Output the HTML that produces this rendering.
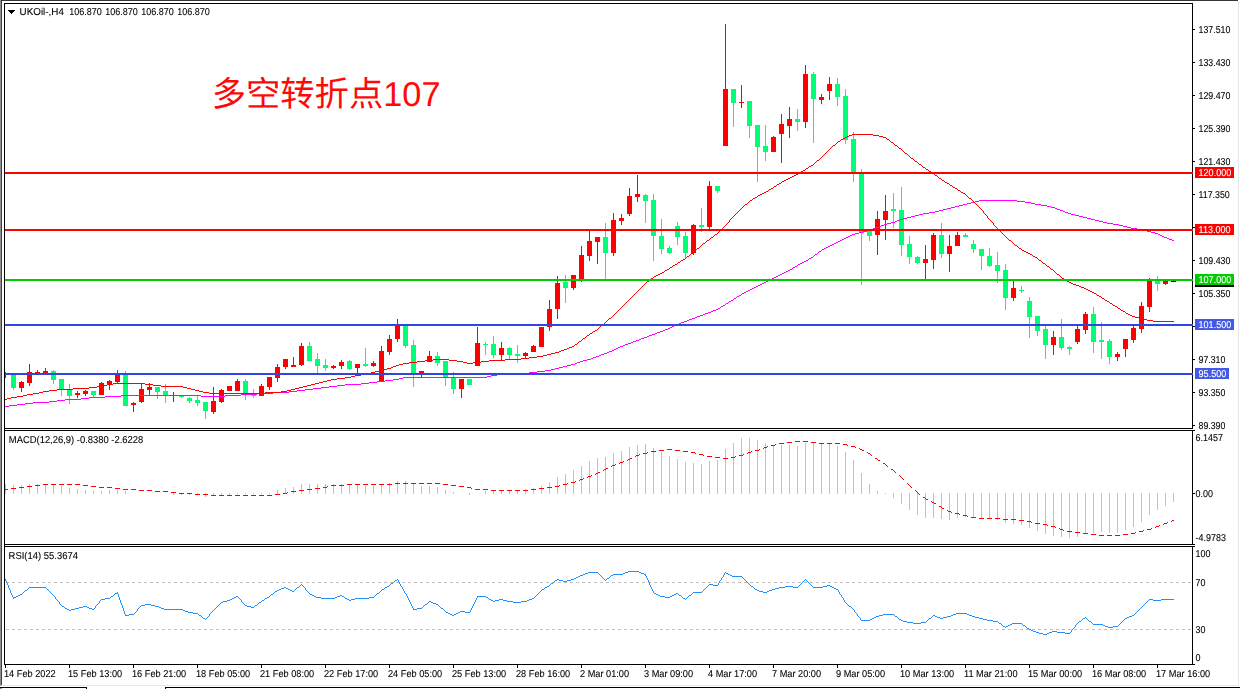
<!DOCTYPE html><html><head><meta charset="utf-8"><style>html,body{margin:0;padding:0;background:#fff}svg{display:block}</style></head><body><svg width="1240" height="689" viewBox="0 0 1240 689" font-family="Liberation Sans, sans-serif" font-size="10.0" style="text-rendering:geometricPrecision">
<rect width="1240" height="689" fill="#fff"/>
<g shape-rendering="crispEdges">
<rect x="0" y="0" width="1" height="686" fill="#8e8e8e"/>
<rect x="1" y="0" width="1" height="685" fill="#404040"/>
<rect x="1" y="0" width="1237" height="1" fill="#363636"/>
<rect x="1238" y="1" width="1" height="685" fill="#e6e6e6"/>
<rect x="2" y="685" width="1237" height="1" fill="#e6e6e6"/>
<rect x="0" y="688" width="2" height="1" fill="#8e8e8e"/>
<rect x="0" y="687" width="87" height="1" fill="#000"/>
<rect x="165" y="687" width="1075" height="1" fill="#000"/>
<rect x="86" y="687" width="1" height="2" fill="#000"/>
<rect x="165" y="687" width="1" height="2" fill="#000"/>
</g>
<g shape-rendering="crispEdges">
<rect x="5.0" y="372.0" width="1" height="6.0" fill="#ff0000"/>
<rect x="13.0" y="373.5" width="1" height="16.3" fill="#00fe76"/>
<rect x="11.0" y="374.3" width="5" height="13.5" fill="#00fe76"/>
<rect x="21.0" y="380.8" width="1" height="10.9" fill="#ff0000"/>
<rect x="19.0" y="382.0" width="5" height="5.8" fill="#ff0000"/>
<rect x="29.0" y="364.1" width="1" height="21.5" fill="#ff0000"/>
<rect x="27.0" y="372.1" width="5" height="10.6" fill="#ff0000"/>
<rect x="37.0" y="369.9" width="1" height="4.1" fill="#ff0000"/>
<rect x="35.0" y="372.0" width="5" height="2.0" fill="#ff0000"/>
<rect x="45.0" y="368.0" width="1" height="6.0" fill="#ff0000"/>
<rect x="43.0" y="371.1" width="5" height="2.2" fill="#ff0000"/>
<rect x="53.0" y="369.9" width="1" height="13.8" fill="#00fe76"/>
<rect x="51.0" y="371.1" width="5" height="8.7" fill="#00fe76"/>
<rect x="61.0" y="379.1" width="1" height="16.7" fill="#00fe76"/>
<rect x="59.0" y="379.1" width="5" height="10.4" fill="#00fe76"/>
<rect x="69.0" y="384.0" width="1" height="20.0" fill="#00fe76"/>
<rect x="67.0" y="388.8" width="5" height="7.3" fill="#00fe76"/>
<rect x="77.0" y="391.0" width="1" height="7.0" fill="#ff0000"/>
<rect x="75.0" y="392.9" width="5" height="2.1" fill="#ff0000"/>
<rect x="85.0" y="390.3" width="1" height="5.5" fill="#ff0000"/>
<rect x="83.0" y="391.4" width="5" height="2.5" fill="#ff0000"/>
<rect x="93.0" y="391.0" width="1" height="7.0" fill="#00fe76"/>
<rect x="91.0" y="391.0" width="5" height="3.6" fill="#00fe76"/>
<rect x="101.0" y="382.0" width="1" height="12.6" fill="#ff0000"/>
<rect x="99.0" y="383.0" width="5" height="11.6" fill="#ff0000"/>
<rect x="109.0" y="379.8" width="1" height="10.0" fill="#ff0000"/>
<rect x="107.0" y="380.8" width="5" height="4.1" fill="#ff0000"/>
<rect x="117.0" y="369.9" width="1" height="13.1" fill="#ff0000"/>
<rect x="115.0" y="374.7" width="5" height="7.3" fill="#ff0000"/>
<rect x="125.0" y="371.1" width="1" height="34.7" fill="#00fe76"/>
<rect x="123.0" y="374.7" width="5" height="31.1" fill="#00fe76"/>
<rect x="133.0" y="401.9" width="1" height="10.1" fill="#ff0000"/>
<rect x="131.0" y="403.0" width="5" height="1.8" fill="#ff0000"/>
<rect x="141.0" y="383.4" width="1" height="19.2" fill="#ff0000"/>
<rect x="139.0" y="388.8" width="5" height="13.1" fill="#ff0000"/>
<rect x="149.0" y="383.0" width="1" height="12.0" fill="#ff0000"/>
<rect x="147.0" y="387.0" width="5" height="2.8" fill="#ff0000"/>
<rect x="157.0" y="387.0" width="1" height="11.6" fill="#00fe76"/>
<rect x="155.0" y="387.1" width="5" height="4.6" fill="#00fe76"/>
<rect x="165.0" y="383.8" width="1" height="19.0" fill="#00fe76"/>
<rect x="163.0" y="391.1" width="5" height="3.8" fill="#00fe76"/>
<rect x="173.0" y="392.0" width="1" height="9.8" fill="#ff0000"/>
<rect x="171.0" y="394.5" width="5" height="1.0" fill="#ff0000"/>
<rect x="181.0" y="395.7" width="1" height="2.2" fill="#00fe76"/>
<rect x="179.0" y="396.0" width="5" height="1.3" fill="#00fe76"/>
<rect x="189.0" y="396.9" width="1" height="5.9" fill="#00fe76"/>
<rect x="187.0" y="397.9" width="5" height="2.9" fill="#00fe76"/>
<rect x="197.0" y="396.0" width="1" height="9.8" fill="#00fe76"/>
<rect x="195.0" y="400.1" width="5" height="2.7" fill="#00fe76"/>
<rect x="205.0" y="401.8" width="1" height="17.0" fill="#00fe76"/>
<rect x="203.0" y="401.8" width="5" height="9.2" fill="#00fe76"/>
<rect x="213.0" y="387.1" width="1" height="26.8" fill="#ff0000"/>
<rect x="211.0" y="401.2" width="5" height="10.7" fill="#ff0000"/>
<rect x="221.0" y="389.0" width="1" height="13.8" fill="#ff0000"/>
<rect x="219.0" y="390.1" width="5" height="11.7" fill="#ff0000"/>
<rect x="229.0" y="386.2" width="1" height="4.8" fill="#ff0000"/>
<rect x="227.0" y="386.2" width="5" height="4.8" fill="#ff0000"/>
<rect x="237.0" y="379.0" width="1" height="12.0" fill="#ff0000"/>
<rect x="235.0" y="380.9" width="5" height="10.1" fill="#ff0000"/>
<rect x="245.0" y="379.0" width="1" height="20.9" fill="#00fe76"/>
<rect x="243.0" y="380.9" width="5" height="12.7" fill="#00fe76"/>
<rect x="253.0" y="389.0" width="1" height="8.9" fill="#00fe76"/>
<rect x="251.0" y="394.0" width="5" height="1.7" fill="#00fe76"/>
<rect x="261.0" y="383.8" width="1" height="11.9" fill="#ff0000"/>
<rect x="259.0" y="386.2" width="5" height="9.5" fill="#ff0000"/>
<rect x="269.0" y="377.3" width="1" height="12.5" fill="#ff0000"/>
<rect x="267.0" y="377.3" width="5" height="9.5" fill="#ff0000"/>
<rect x="277.0" y="364.0" width="1" height="17.9" fill="#ff0000"/>
<rect x="275.0" y="367.2" width="5" height="10.7" fill="#ff0000"/>
<rect x="285.0" y="359.0" width="1" height="9.9" fill="#ff0000"/>
<rect x="283.0" y="359.0" width="5" height="7.8" fill="#ff0000"/>
<rect x="293.0" y="357.0" width="1" height="9.8" fill="#ff0000"/>
<rect x="291.0" y="365.0" width="5" height="1.8" fill="#ff0000"/>
<rect x="301.0" y="343.2" width="1" height="22.7" fill="#ff0000"/>
<rect x="299.0" y="346.0" width="5" height="18.8" fill="#ff0000"/>
<rect x="309.0" y="342.0" width="1" height="18.8" fill="#00fe76"/>
<rect x="307.0" y="346.0" width="5" height="14.8" fill="#00fe76"/>
<rect x="317.0" y="353.1" width="1" height="19.6" fill="#00fe76"/>
<rect x="315.0" y="359.0" width="5" height="6.9" fill="#00fe76"/>
<rect x="325.0" y="359.0" width="1" height="11.7" fill="#00fe76"/>
<rect x="323.0" y="365.1" width="5" height="2.6" fill="#00fe76"/>
<rect x="333.0" y="364.9" width="1" height="4.1" fill="#ff0000"/>
<rect x="331.0" y="365.9" width="5" height="1.8" fill="#ff0000"/>
<rect x="341.0" y="360.0" width="1" height="8.8" fill="#ff0000"/>
<rect x="339.0" y="362.2" width="5" height="3.7" fill="#ff0000"/>
<rect x="349.0" y="359.6" width="1" height="10.4" fill="#00fe76"/>
<rect x="347.0" y="360.9" width="5" height="7.9" fill="#00fe76"/>
<rect x="357.0" y="363.9" width="1" height="9.1" fill="#ff0000"/>
<rect x="355.0" y="363.9" width="5" height="3.8" fill="#ff0000"/>
<rect x="365.0" y="348.1" width="1" height="18.7" fill="#00fe76"/>
<rect x="363.0" y="363.9" width="5" height="2.3" fill="#00fe76"/>
<rect x="373.0" y="360.9" width="1" height="6.1" fill="#ff0000"/>
<rect x="371.0" y="362.9" width="5" height="3.3" fill="#ff0000"/>
<rect x="381.0" y="346.2" width="1" height="35.9" fill="#ff0000"/>
<rect x="379.0" y="351.1" width="5" height="31.0" fill="#ff0000"/>
<rect x="389.0" y="335.1" width="1" height="19.7" fill="#ff0000"/>
<rect x="387.0" y="339.0" width="5" height="12.8" fill="#ff0000"/>
<rect x="397.0" y="318.9" width="1" height="22.8" fill="#ff0000"/>
<rect x="395.0" y="325.7" width="5" height="13.0" fill="#ff0000"/>
<rect x="405.0" y="325.7" width="1" height="22.2" fill="#00fe76"/>
<rect x="403.0" y="325.7" width="5" height="20.2" fill="#00fe76"/>
<rect x="413.0" y="340.0" width="1" height="46.8" fill="#00fe76"/>
<rect x="411.0" y="345.0" width="5" height="28.1" fill="#00fe76"/>
<rect x="421.0" y="371.0" width="1" height="6.9" fill="#ff0000"/>
<rect x="419.0" y="371.0" width="5" height="2.3" fill="#ff0000"/>
<rect x="429.0" y="351.1" width="1" height="10.5" fill="#ff0000"/>
<rect x="427.0" y="356.0" width="5" height="5.6" fill="#ff0000"/>
<rect x="437.0" y="352.1" width="1" height="13.8" fill="#00fe76"/>
<rect x="435.0" y="356.0" width="5" height="6.9" fill="#00fe76"/>
<rect x="445.0" y="360.9" width="1" height="24.9" fill="#00fe76"/>
<rect x="443.0" y="360.9" width="5" height="16.0" fill="#00fe76"/>
<rect x="453.0" y="372.0" width="1" height="21.6" fill="#00fe76"/>
<rect x="451.0" y="377.2" width="5" height="11.6" fill="#00fe76"/>
<rect x="461.0" y="379.2" width="1" height="18.6" fill="#ff0000"/>
<rect x="459.0" y="379.2" width="5" height="9.6" fill="#ff0000"/>
<rect x="469.0" y="378.8" width="1" height="5.9" fill="#00fe76"/>
<rect x="467.0" y="378.8" width="5" height="5.9" fill="#00fe76"/>
<rect x="477.0" y="327.0" width="1" height="38.8" fill="#ff0000"/>
<rect x="475.0" y="343.0" width="5" height="22.8" fill="#ff0000"/>
<rect x="485.0" y="342.0" width="1" height="12.8" fill="#00fe76"/>
<rect x="483.0" y="344.2" width="5" height="1.0" fill="#00fe76"/>
<rect x="493.0" y="336.1" width="1" height="21.6" fill="#00fe76"/>
<rect x="491.0" y="344.2" width="5" height="10.5" fill="#00fe76"/>
<rect x="501.0" y="342.0" width="1" height="18.3" fill="#ff0000"/>
<rect x="499.0" y="348.1" width="5" height="6.6" fill="#ff0000"/>
<rect x="509.0" y="347.0" width="1" height="13.3" fill="#00fe76"/>
<rect x="507.0" y="348.1" width="5" height="6.6" fill="#00fe76"/>
<rect x="517.0" y="345.0" width="1" height="17.6" fill="#00fe76"/>
<rect x="515.0" y="354.4" width="5" height="1.3" fill="#00fe76"/>
<rect x="525.0" y="351.8" width="1" height="6.5" fill="#ff0000"/>
<rect x="523.0" y="352.8" width="5" height="2.9" fill="#ff0000"/>
<rect x="533.0" y="345.0" width="1" height="6.8" fill="#ff0000"/>
<rect x="531.0" y="346.2" width="5" height="5.6" fill="#ff0000"/>
<rect x="541.0" y="327.0" width="1" height="19.8" fill="#ff0000"/>
<rect x="539.0" y="327.0" width="5" height="19.8" fill="#ff0000"/>
<rect x="549.0" y="300.1" width="1" height="30.6" fill="#ff0000"/>
<rect x="547.0" y="309.2" width="5" height="18.2" fill="#ff0000"/>
<rect x="557.0" y="276.1" width="1" height="42.8" fill="#ff0000"/>
<rect x="555.0" y="282.8" width="5" height="26.1" fill="#ff0000"/>
<rect x="565.0" y="275.0" width="1" height="27.8" fill="#00fe76"/>
<rect x="563.0" y="281.7" width="5" height="5.9" fill="#00fe76"/>
<rect x="573.0" y="275.0" width="1" height="14.7" fill="#ff0000"/>
<rect x="571.0" y="275.0" width="5" height="12.6" fill="#ff0000"/>
<rect x="581.0" y="245.8" width="1" height="35.9" fill="#ff0000"/>
<rect x="579.0" y="255.0" width="5" height="24.3" fill="#ff0000"/>
<rect x="589.0" y="230.6" width="1" height="30.3" fill="#ff0000"/>
<rect x="587.0" y="241.0" width="5" height="14.7" fill="#ff0000"/>
<rect x="597.0" y="237.0" width="1" height="26.8" fill="#ff0000"/>
<rect x="595.0" y="237.1" width="5" height="4.4" fill="#ff0000"/>
<rect x="605.0" y="223.3" width="1" height="56.0" fill="#00fe76"/>
<rect x="603.0" y="237.1" width="5" height="15.6" fill="#00fe76"/>
<rect x="613.0" y="212.9" width="1" height="42.8" fill="#ff0000"/>
<rect x="611.0" y="220.1" width="5" height="32.6" fill="#ff0000"/>
<rect x="621.0" y="214.2" width="1" height="10.7" fill="#ff0000"/>
<rect x="619.0" y="218.2" width="5" height="2.7" fill="#ff0000"/>
<rect x="629.0" y="188.1" width="1" height="27.7" fill="#ff0000"/>
<rect x="627.0" y="196.1" width="5" height="17.6" fill="#ff0000"/>
<rect x="637.0" y="175.1" width="1" height="26.6" fill="#ff0000"/>
<rect x="635.0" y="194.1" width="5" height="2.8" fill="#ff0000"/>
<rect x="645.0" y="194.1" width="1" height="28.7" fill="#00fe76"/>
<rect x="643.0" y="195.0" width="5" height="5.9" fill="#00fe76"/>
<rect x="653.0" y="194.1" width="1" height="66.7" fill="#00fe76"/>
<rect x="651.0" y="200.1" width="5" height="35.5" fill="#00fe76"/>
<rect x="661.0" y="219.3" width="1" height="34.3" fill="#00fe76"/>
<rect x="659.0" y="236.0" width="5" height="12.5" fill="#00fe76"/>
<rect x="669.0" y="246.1" width="1" height="7.5" fill="#00fe76"/>
<rect x="667.0" y="248.0" width="5" height="4.8" fill="#00fe76"/>
<rect x="677.0" y="222.0" width="1" height="22.5" fill="#00fe76"/>
<rect x="675.0" y="226.0" width="5" height="10.8" fill="#00fe76"/>
<rect x="685.0" y="232.0" width="1" height="26.1" fill="#00fe76"/>
<rect x="683.0" y="236.0" width="5" height="16.8" fill="#00fe76"/>
<rect x="693.0" y="224.1" width="1" height="30.6" fill="#ff0000"/>
<rect x="691.0" y="225.2" width="5" height="27.9" fill="#ff0000"/>
<rect x="701.0" y="208.2" width="1" height="23.5" fill="#00fe76"/>
<rect x="699.0" y="225.0" width="5" height="1.9" fill="#00fe76"/>
<rect x="709.0" y="181.1" width="1" height="47.9" fill="#ff0000"/>
<rect x="707.0" y="186.2" width="5" height="40.4" fill="#ff0000"/>
<rect x="717.0" y="186.2" width="1" height="6.6" fill="#00fe76"/>
<rect x="715.0" y="186.2" width="5" height="4.5" fill="#00fe76"/>
<rect x="725.0" y="24.0" width="1" height="121.8" fill="#ff0000"/>
<rect x="723.0" y="89.1" width="5" height="56.7" fill="#ff0000"/>
<rect x="733.0" y="89.1" width="1" height="37.7" fill="#00fe76"/>
<rect x="731.0" y="89.1" width="5" height="13.6" fill="#00fe76"/>
<rect x="741.0" y="85.1" width="1" height="22.8" fill="#ff0000"/>
<rect x="739.0" y="102.0" width="5" height="1.1" fill="#ff0000"/>
<rect x="749.0" y="100.8" width="1" height="37.0" fill="#00fe76"/>
<rect x="747.0" y="100.8" width="5" height="25.0" fill="#00fe76"/>
<rect x="757.0" y="125.0" width="1" height="56.7" fill="#00fe76"/>
<rect x="755.0" y="125.0" width="5" height="21.7" fill="#00fe76"/>
<rect x="765.0" y="125.0" width="1" height="35.9" fill="#00fe76"/>
<rect x="763.0" y="145.8" width="5" height="6.0" fill="#00fe76"/>
<rect x="773.0" y="135.9" width="1" height="15.9" fill="#ff0000"/>
<rect x="771.0" y="137.0" width="5" height="14.8" fill="#ff0000"/>
<rect x="781.0" y="113.8" width="1" height="49.2" fill="#ff0000"/>
<rect x="779.0" y="123.9" width="5" height="10.1" fill="#ff0000"/>
<rect x="789.0" y="107.1" width="1" height="30.7" fill="#ff0000"/>
<rect x="787.0" y="118.8" width="5" height="7.2" fill="#ff0000"/>
<rect x="797.0" y="109.1" width="1" height="22.0" fill="#00fe76"/>
<rect x="795.0" y="118.8" width="5" height="3.0" fill="#00fe76"/>
<rect x="805.0" y="65.1" width="1" height="62.8" fill="#ff0000"/>
<rect x="803.0" y="74.2" width="5" height="47.6" fill="#ff0000"/>
<rect x="813.0" y="72.0" width="1" height="70.7" fill="#00fe76"/>
<rect x="811.0" y="74.2" width="5" height="24.5" fill="#00fe76"/>
<rect x="821.0" y="93.8" width="1" height="10.1" fill="#ff0000"/>
<rect x="819.0" y="97.0" width="5" height="2.7" fill="#ff0000"/>
<rect x="829.0" y="76.8" width="1" height="23.1" fill="#ff0000"/>
<rect x="827.0" y="84.3" width="5" height="6.5" fill="#ff0000"/>
<rect x="837.0" y="77.9" width="1" height="27.9" fill="#00fe76"/>
<rect x="835.0" y="84.3" width="5" height="12.4" fill="#00fe76"/>
<rect x="845.0" y="89.1" width="1" height="54.7" fill="#00fe76"/>
<rect x="843.0" y="96.2" width="5" height="43.3" fill="#00fe76"/>
<rect x="853.0" y="132.2" width="1" height="49.5" fill="#00fe76"/>
<rect x="851.0" y="139.0" width="5" height="33.3" fill="#00fe76"/>
<rect x="861.0" y="168.5" width="1" height="116.0" fill="#00fe76"/>
<rect x="859.0" y="172.8" width="5" height="59.8" fill="#00fe76"/>
<rect x="869.0" y="230.2" width="1" height="10.6" fill="#00fe76"/>
<rect x="867.0" y="230.2" width="5" height="5.6" fill="#00fe76"/>
<rect x="877.0" y="210.9" width="1" height="44.0" fill="#ff0000"/>
<rect x="875.0" y="219.1" width="5" height="15.8" fill="#ff0000"/>
<rect x="885.0" y="194.9" width="1" height="44.9" fill="#ff0000"/>
<rect x="883.0" y="210.9" width="5" height="9.1" fill="#ff0000"/>
<rect x="893.0" y="193.0" width="1" height="34.9" fill="#00fe76"/>
<rect x="891.0" y="209.1" width="5" height="1.8" fill="#00fe76"/>
<rect x="901.0" y="187.0" width="1" height="68.8" fill="#00fe76"/>
<rect x="899.0" y="210.0" width="5" height="34.9" fill="#00fe76"/>
<rect x="909.0" y="236.0" width="1" height="27.8" fill="#00fe76"/>
<rect x="907.0" y="244.0" width="5" height="12.8" fill="#00fe76"/>
<rect x="917.0" y="255.8" width="1" height="8.0" fill="#00fe76"/>
<rect x="915.0" y="256.8" width="5" height="6.0" fill="#00fe76"/>
<rect x="925.0" y="244.9" width="1" height="34.3" fill="#ff0000"/>
<rect x="923.0" y="259.1" width="5" height="3.7" fill="#ff0000"/>
<rect x="933.0" y="233.2" width="1" height="35.7" fill="#ff0000"/>
<rect x="931.0" y="234.9" width="5" height="24.7" fill="#ff0000"/>
<rect x="941.0" y="223.2" width="1" height="34.5" fill="#00fe76"/>
<rect x="939.0" y="234.9" width="5" height="18.8" fill="#00fe76"/>
<rect x="949.0" y="234.8" width="1" height="36.7" fill="#ff0000"/>
<rect x="947.0" y="245.9" width="5" height="7.7" fill="#ff0000"/>
<rect x="957.0" y="231.8" width="1" height="14.6" fill="#ff0000"/>
<rect x="955.0" y="234.8" width="5" height="11.6" fill="#ff0000"/>
<rect x="965.0" y="232.6" width="1" height="4.1" fill="#00fe76"/>
<rect x="963.0" y="234.8" width="5" height="1.9" fill="#00fe76"/>
<rect x="973.0" y="239.9" width="1" height="12.6" fill="#00fe76"/>
<rect x="971.0" y="244.4" width="5" height="4.5" fill="#00fe76"/>
<rect x="981.0" y="248.5" width="1" height="21.3" fill="#00fe76"/>
<rect x="979.0" y="248.5" width="5" height="7.1" fill="#00fe76"/>
<rect x="989.0" y="248.0" width="1" height="18.7" fill="#00fe76"/>
<rect x="987.0" y="256.2" width="5" height="9.5" fill="#00fe76"/>
<rect x="997.0" y="251.9" width="1" height="30.7" fill="#00fe76"/>
<rect x="995.0" y="265.1" width="5" height="5.7" fill="#00fe76"/>
<rect x="1005.0" y="264.1" width="1" height="45.7" fill="#00fe76"/>
<rect x="1003.0" y="270.2" width="5" height="27.4" fill="#00fe76"/>
<rect x="1013.0" y="281.0" width="1" height="19.7" fill="#ff0000"/>
<rect x="1011.0" y="288.1" width="5" height="9.5" fill="#ff0000"/>
<rect x="1021.0" y="286.0" width="1" height="7.2" fill="#00fe76"/>
<rect x="1019.0" y="289.5" width="5" height="1.0" fill="#00fe76"/>
<rect x="1029.0" y="296.8" width="1" height="41.1" fill="#00fe76"/>
<rect x="1027.0" y="301.3" width="5" height="15.2" fill="#00fe76"/>
<rect x="1037.0" y="316.1" width="1" height="19.8" fill="#00fe76"/>
<rect x="1035.0" y="316.1" width="5" height="14.7" fill="#00fe76"/>
<rect x="1045.0" y="325.7" width="1" height="33.1" fill="#00fe76"/>
<rect x="1043.0" y="329.0" width="5" height="15.7" fill="#00fe76"/>
<rect x="1053.0" y="331.0" width="1" height="23.9" fill="#ff0000"/>
<rect x="1051.0" y="337.2" width="5" height="7.5" fill="#ff0000"/>
<rect x="1061.0" y="319.3" width="1" height="30.3" fill="#00fe76"/>
<rect x="1059.0" y="337.2" width="5" height="10.8" fill="#00fe76"/>
<rect x="1069.0" y="346.0" width="1" height="8.9" fill="#00fe76"/>
<rect x="1067.0" y="346.9" width="5" height="1.9" fill="#00fe76"/>
<rect x="1077.0" y="325.3" width="1" height="18.4" fill="#ff0000"/>
<rect x="1075.0" y="329.2" width="5" height="12.9" fill="#ff0000"/>
<rect x="1085.0" y="312.1" width="1" height="21.5" fill="#ff0000"/>
<rect x="1083.0" y="314.2" width="5" height="15.8" fill="#ff0000"/>
<rect x="1093.0" y="307.3" width="1" height="45.5" fill="#00fe76"/>
<rect x="1091.0" y="314.2" width="5" height="27.7" fill="#00fe76"/>
<rect x="1101.0" y="321.7" width="1" height="37.2" fill="#00fe76"/>
<rect x="1099.0" y="340.0" width="5" height="1.9" fill="#00fe76"/>
<rect x="1109.0" y="338.8" width="1" height="24.9" fill="#00fe76"/>
<rect x="1107.0" y="340.8" width="5" height="16.0" fill="#00fe76"/>
<rect x="1117.0" y="352.0" width="1" height="8.8" fill="#ff0000"/>
<rect x="1115.0" y="354.1" width="5" height="3.0" fill="#ff0000"/>
<rect x="1125.0" y="338.9" width="1" height="17.9" fill="#ff0000"/>
<rect x="1123.0" y="338.9" width="5" height="9.9" fill="#ff0000"/>
<rect x="1133.0" y="325.7" width="1" height="17.0" fill="#ff0000"/>
<rect x="1131.0" y="328.1" width="5" height="11.6" fill="#ff0000"/>
<rect x="1141.0" y="302.0" width="1" height="30.5" fill="#ff0000"/>
<rect x="1139.0" y="306.2" width="5" height="22.7" fill="#ff0000"/>
<rect x="1149.0" y="278.1" width="1" height="33.7" fill="#ff0000"/>
<rect x="1147.0" y="280.2" width="5" height="26.6" fill="#ff0000"/>
<rect x="1157.0" y="275.9" width="1" height="15.0" fill="#00fe76"/>
<rect x="1155.0" y="280.2" width="5" height="3.6" fill="#00fe76"/>
<rect x="1165.0" y="280.0" width="1" height="5.0" fill="#ff0000"/>
<rect x="1163.0" y="281.0" width="5" height="2.8" fill="#ff0000"/>
<rect x="1171" y="280.5" width="5" height="1" fill="#000"/>
</g>
<path d="M979 200h38v1h-38zM975 201h4v1h-4zM1017 201h8v1h-8zM971 202h4v1h-4zM1025 202h6v1h-6zM967 203h4v1h-4zM1031 203h4v1h-4zM963 204h4v1h-4zM1035 204h6v1h-6zM959 205h4v1h-4zM1041 205h6v1h-6zM955 206h4v1h-4zM1047 206h4v1h-4zM951 207h4v1h-4zM1051 207h4v1h-4zM947 208h4v1h-4zM1055 208h2v1h-2zM943 209h4v1h-4zM1057 209h3v1h-3zM939 210h4v1h-4zM1060 210h3v1h-3zM935 211h4v1h-4zM1063 211h2v1h-2zM929 212h6v1h-6zM1065 212h3v1h-3zM923 213h6v1h-6zM1068 213h3v1h-3zM919 214h4v1h-4zM1071 214h4v1h-4zM915 215h4v1h-4zM1075 215h4v1h-4zM911 216h4v1h-4zM1079 216h4v1h-4zM907 217h4v1h-4zM1083 217h4v1h-4zM903 218h4v1h-4zM1087 218h4v1h-4zM900 219h3v1h-3zM1091 219h4v1h-4zM897 220h3v1h-3zM1095 220h4v1h-4zM895 221h2v1h-2zM1099 221h4v1h-4zM891 222h4v1h-4zM1103 222h4v1h-4zM887 223h4v1h-4zM1107 223h6v1h-6zM884 224h3v1h-3zM1113 224h6v1h-6zM881 225h3v1h-3zM1119 225h4v1h-4zM879 226h2v1h-2zM1123 226h4v1h-4zM876 227h3v1h-3zM1127 227h4v1h-4zM873 228h3v1h-3zM1131 228h6v1h-6zM871 229h2v1h-2zM1137 229h6v1h-6zM867 230h4v1h-4zM1143 230h4v1h-4zM863 231h4v1h-4zM1147 231h4v1h-4zM859 232h4v1h-4zM1151 232h4v1h-4zM855 233h4v1h-4zM1155 233h3v1h-3zM852 234h3v1h-3zM1158 234h2v1h-2zM850 235h2v1h-2zM1160 235h2v1h-2zM848 236h2v1h-2zM1162 236h2v1h-2zM846 237h2v1h-2zM1164 237h3v1h-3zM844 238h2v1h-2zM1167 238h2v1h-2zM842 239h2v1h-2zM1169 239h3v1h-3zM840 240h2v1h-2zM1172 240h2v1h-2zM838 241h2v1h-2zM836 242h2v1h-2zM834 243h2v1h-2zM832 244h2v1h-2zM830 245h2v1h-2zM828 246h2v1h-2zM826 247h2v1h-2zM824 248h2v1h-2zM822 249h2v1h-2zM821 250h1v1h-1zM819 251h2v1h-2zM818 252h1v1h-1zM817 253h1v1h-1zM815 254h2v1h-2zM814 255h1v1h-1zM813 256h1v1h-1zM811 257h2v1h-2zM809 258h2v1h-2zM808 259h1v1h-1zM806 260h2v1h-2zM804 261h2v1h-2zM802 262h2v1h-2zM800 263h2v1h-2zM798 264h2v1h-2zM797 265h1v1h-1zM795 266h2v1h-2zM793 267h2v1h-2zM792 268h1v1h-1zM790 269h2v1h-2zM788 270h2v1h-2zM786 271h2v1h-2zM784 272h2v1h-2zM782 273h2v1h-2zM780 274h2v1h-2zM778 275h2v1h-2zM776 276h2v1h-2zM774 277h2v1h-2zM772 278h2v1h-2zM770 279h2v1h-2zM768 280h2v1h-2zM766 281h2v1h-2zM764 282h2v1h-2zM762 283h2v1h-2zM760 284h2v1h-2zM758 285h2v1h-2zM756 286h2v1h-2zM754 287h2v1h-2zM752 288h2v1h-2zM750 289h2v1h-2zM748 290h2v1h-2zM746 291h2v1h-2zM744 292h2v1h-2zM742 293h2v1h-2zM741 294h1v1h-1zM739 295h2v1h-2zM737 296h2v1h-2zM736 297h1v1h-1zM734 298h2v1h-2zM733 299h1v1h-1zM731 300h2v1h-2zM729 301h2v1h-2zM728 302h1v1h-1zM726 303h2v1h-2zM725 304h1v1h-1zM723 305h2v1h-2zM721 306h2v1h-2zM720 307h1v1h-1zM718 308h2v1h-2zM716 309h2v1h-2zM713 310h3v1h-3zM711 311h2v1h-2zM708 312h3v1h-3zM705 313h3v1h-3zM703 314h2v1h-2zM700 315h3v1h-3zM697 316h3v1h-3zM695 317h2v1h-2zM692 318h3v1h-3zM689 319h3v1h-3zM687 320h2v1h-2zM684 321h3v1h-3zM681 322h3v1h-3zM679 323h2v1h-2zM676 324h3v1h-3zM674 325h2v1h-2zM672 326h2v1h-2zM670 327h2v1h-2zM668 328h2v1h-2zM665 329h3v1h-3zM663 330h2v1h-2zM660 331h3v1h-3zM657 332h3v1h-3zM655 333h2v1h-2zM652 334h3v1h-3zM649 335h3v1h-3zM647 336h2v1h-2zM644 337h3v1h-3zM641 338h3v1h-3zM639 339h2v1h-2zM636 340h3v1h-3zM633 341h3v1h-3zM631 342h2v1h-2zM628 343h3v1h-3zM625 344h3v1h-3zM623 345h2v1h-2zM620 346h3v1h-3zM618 347h2v1h-2zM616 348h2v1h-2zM614 349h2v1h-2zM612 350h2v1h-2zM609 351h3v1h-3zM607 352h2v1h-2zM604 353h3v1h-3zM601 354h3v1h-3zM599 355h2v1h-2zM596 356h3v1h-3zM593 357h3v1h-3zM591 358h2v1h-2zM587 359h4v1h-4zM583 360h4v1h-4zM580 361h3v1h-3zM577 362h3v1h-3zM575 363h2v1h-2zM571 364h4v1h-4zM567 365h4v1h-4zM563 366h4v1h-4zM559 367h4v1h-4zM555 368h4v1h-4zM551 369h4v1h-4zM545 370h6v1h-6zM537 371h8v1h-8zM529 372h8v1h-8zM513 373h16v1h-16zM497 374h16v1h-16zM491 375h6v1h-6zM487 376h4v1h-4zM403 377h84v1h-84zM399 378h4v1h-4zM393 379h6v1h-6zM385 380h8v1h-8zM377 381h8v1h-8zM369 382h8v1h-8zM361 383h8v1h-8zM345 384h16v1h-16zM337 385h8v1h-8zM329 386h8v1h-8zM321 387h8v1h-8zM313 388h8v1h-8zM305 389h8v1h-8zM297 390h8v1h-8zM289 391h8v1h-8zM273 392h16v1h-16zM257 393h16v1h-16zM241 394h16v1h-16zM121 395h80v1h-80zM225 395h16v1h-16zM105 396h16v1h-16zM201 396h24v1h-24zM89 397h16v1h-16zM81 398h8v1h-8zM65 399h16v1h-16zM57 400h8v1h-8zM49 401h8v1h-8zM33 402h16v1h-16zM25 403h8v1h-8zM17 404h8v1h-8zM9 405h8v1h-8zM5 406h4v1h-4z" fill="#ff00ff" shape-rendering="crispEdges"/>
<path d="M852 134h21v1h-21zM849 135h3v1h-3zM873 135h6v1h-6zM847 136h2v1h-2zM879 136h4v1h-4zM845 137h2v1h-2zM883 137h3v1h-3zM843 138h2v1h-2zM886 138h1v1h-1zM841 139h2v1h-2zM887 139h2v1h-2zM840 140h1v1h-1zM889 140h1v1h-1zM838 141h2v1h-2zM890 141h1v1h-1zM837 142h1v1h-1zM891 142h2v1h-2zM836 143h1v1h-1zM893 143h1v1h-1zM835 144h1v1h-1zM894 144h1v1h-1zM833 145h2v1h-2zM895 145h2v1h-2zM832 146h1v1h-1zM897 146h1v1h-1zM831 147h1v1h-1zM898 147h1v1h-1zM830 148h1v1h-1zM899 148h2v1h-2zM829 149h1v1h-1zM901 149h1v1h-1zM828 150h1v1h-1zM902 150h1v1h-1zM827 151h1v1h-1zM903 151h1v1h-1zM826 152h1v1h-1zM904 152h1v1h-1zM825 153h1v1h-1zM905 153h2v1h-2zM824 154h1v1h-1zM907 154h1v1h-1zM823 155h1v1h-1zM908 155h1v1h-1zM822 156h1v1h-1zM909 156h1v1h-1zM821 157h1v1h-1zM910 157h1v1h-1zM820 158h1v1h-1zM911 158h2v1h-2zM819 159h1v1h-1zM913 159h1v1h-1zM817 160h2v1h-2zM914 160h1v1h-1zM816 161h1v1h-1zM915 161h2v1h-2zM815 162h1v1h-1zM917 162h1v1h-1zM814 163h1v1h-1zM918 163h1v1h-1zM813 164h1v1h-1zM919 164h2v1h-2zM811 165h2v1h-2zM921 165h1v1h-1zM809 166h2v1h-2zM922 166h1v1h-1zM808 167h1v1h-1zM923 167h2v1h-2zM806 168h2v1h-2zM925 168h1v1h-1zM805 169h1v1h-1zM926 169h2v1h-2zM803 170h2v1h-2zM928 170h1v1h-1zM801 171h2v1h-2zM929 171h2v1h-2zM800 172h1v1h-1zM931 172h2v1h-2zM798 173h2v1h-2zM933 173h1v1h-1zM796 174h2v1h-2zM934 174h1v1h-1zM794 175h2v1h-2zM935 175h2v1h-2zM792 176h2v1h-2zM937 176h1v1h-1zM790 177h2v1h-2zM938 177h1v1h-1zM788 178h2v1h-2zM939 178h2v1h-2zM786 179h2v1h-2zM941 179h1v1h-1zM784 180h2v1h-2zM942 180h2v1h-2zM782 181h2v1h-2zM944 181h1v1h-1zM781 182h1v1h-1zM945 182h2v1h-2zM779 183h2v1h-2zM947 183h2v1h-2zM777 184h2v1h-2zM949 184h1v1h-1zM776 185h1v1h-1zM950 185h2v1h-2zM774 186h2v1h-2zM952 186h1v1h-1zM773 187h1v1h-1zM953 187h2v1h-2zM771 188h2v1h-2zM955 188h2v1h-2zM769 189h2v1h-2zM957 189h1v1h-1zM768 190h1v1h-1zM958 190h2v1h-2zM766 191h2v1h-2zM960 191h1v1h-1zM764 192h2v1h-2zM961 192h2v1h-2zM762 193h2v1h-2zM963 193h2v1h-2zM760 194h2v1h-2zM965 194h1v1h-1zM758 195h2v1h-2zM966 195h1v1h-1zM757 196h1v1h-1zM967 196h1v1h-1zM755 197h2v1h-2zM968 197h1v1h-1zM753 198h2v1h-2zM969 198h2v1h-2zM752 199h1v1h-1zM971 199h1v1h-1zM750 200h2v1h-2zM972 200h1v1h-1zM749 201h1v1h-1zM973 201h1v1h-1zM748 202h1v1h-1zM974 202h1v1h-1zM747 203h1v1h-1zM975 203h1v1h-1zM745 204h2v1h-2zM976 204h1v1h-1zM744 205h1v1h-1zM977 205h1v1h-1zM743 206h1v1h-1zM978 206h1v1h-1zM742 207h1v1h-1zM979 207h1v1h-1zM741 208h1v1h-1zM980 208h1v1h-1zM740 209h1v1h-1zM981 209h1v1h-1zM739 210h1v1h-1zM982 210h1v1h-1zM738 211h1v1h-1zM983 211h1v1h-1zM737 212h1v1h-1zM983 212h1v1h-1zM736 213h1v1h-1zM984 213h1v1h-1zM735 214h1v1h-1zM985 214h1v1h-1zM734 215h1v1h-1zM986 215h1v1h-1zM733 216h1v1h-1zM987 216h1v1h-1zM732 217h1v1h-1zM987 217h1v1h-1zM731 218h1v1h-1zM988 218h1v1h-1zM730 219h1v1h-1zM989 219h1v1h-1zM729 220h1v1h-1zM990 220h1v1h-1zM729 221h1v1h-1zM991 221h1v1h-1zM728 222h1v1h-1zM992 222h1v1h-1zM727 223h1v1h-1zM993 223h1v1h-1zM726 224h1v1h-1zM993 224h1v1h-1zM725 225h1v1h-1zM994 225h1v1h-1zM724 226h1v1h-1zM995 226h1v1h-1zM723 227h1v1h-1zM996 227h1v1h-1zM722 228h1v1h-1zM997 228h1v1h-1zM721 229h1v1h-1zM998 229h1v1h-1zM720 230h1v1h-1zM999 230h1v1h-1zM719 231h1v1h-1zM1000 231h1v1h-1zM718 232h1v1h-1zM1001 232h1v1h-1zM717 233h1v1h-1zM1002 233h1v1h-1zM715 234h2v1h-2zM1003 234h1v1h-1zM714 235h1v1h-1zM1004 235h1v1h-1zM713 236h1v1h-1zM1005 236h1v1h-1zM711 237h2v1h-2zM1006 237h1v1h-1zM710 238h1v1h-1zM1007 238h1v1h-1zM709 239h1v1h-1zM1008 239h1v1h-1zM707 240h2v1h-2zM1009 240h2v1h-2zM706 241h1v1h-1zM1011 241h1v1h-1zM705 242h1v1h-1zM1012 242h1v1h-1zM703 243h2v1h-2zM1013 243h1v1h-1zM702 244h1v1h-1zM1014 244h1v1h-1zM701 245h1v1h-1zM1015 245h2v1h-2zM700 246h1v1h-1zM1017 246h1v1h-1zM699 247h1v1h-1zM1018 247h1v1h-1zM697 248h2v1h-2zM1019 248h2v1h-2zM696 249h1v1h-1zM1021 249h1v1h-1zM695 250h1v1h-1zM1022 250h2v1h-2zM694 251h1v1h-1zM1024 251h2v1h-2zM693 252h1v1h-1zM1026 252h2v1h-2zM691 253h2v1h-2zM1028 253h2v1h-2zM690 254h1v1h-1zM1030 254h2v1h-2zM689 255h1v1h-1zM1032 255h1v1h-1zM687 256h2v1h-2zM1033 256h2v1h-2zM686 257h1v1h-1zM1035 257h2v1h-2zM685 258h1v1h-1zM1037 258h1v1h-1zM683 259h2v1h-2zM1038 259h1v1h-1zM681 260h2v1h-2zM1039 260h2v1h-2zM680 261h1v1h-1zM1041 261h1v1h-1zM678 262h2v1h-2zM1042 262h1v1h-1zM677 263h1v1h-1zM1043 263h2v1h-2zM675 264h2v1h-2zM1045 264h1v1h-1zM673 265h2v1h-2zM1046 265h1v1h-1zM672 266h1v1h-1zM1047 266h2v1h-2zM670 267h2v1h-2zM1049 267h1v1h-1zM669 268h1v1h-1zM1050 268h1v1h-1zM667 269h2v1h-2zM1051 269h2v1h-2zM665 270h2v1h-2zM1053 270h1v1h-1zM664 271h1v1h-1zM1054 271h1v1h-1zM662 272h2v1h-2zM1055 272h1v1h-1zM660 273h2v1h-2zM1056 273h1v1h-1zM658 274h2v1h-2zM1057 274h2v1h-2zM656 275h2v1h-2zM1059 275h1v1h-1zM654 276h2v1h-2zM1060 276h1v1h-1zM653 277h1v1h-1zM1061 277h1v1h-1zM651 278h2v1h-2zM1062 278h2v1h-2zM650 279h1v1h-1zM1064 279h1v1h-1zM649 280h1v1h-1zM1065 280h2v1h-2zM647 281h2v1h-2zM1067 281h2v1h-2zM646 282h1v1h-1zM1069 282h2v1h-2zM645 283h1v1h-1zM1071 283h2v1h-2zM644 284h1v1h-1zM1073 284h3v1h-3zM643 285h1v1h-1zM1076 285h3v1h-3zM642 286h1v1h-1zM1079 286h2v1h-2zM641 287h1v1h-1zM1081 287h3v1h-3zM640 288h1v1h-1zM1084 288h2v1h-2zM639 289h1v1h-1zM1086 289h2v1h-2zM638 290h1v1h-1zM1088 290h2v1h-2zM637 291h1v1h-1zM1090 291h2v1h-2zM636 292h1v1h-1zM1092 292h2v1h-2zM635 293h1v1h-1zM1094 293h2v1h-2zM634 294h1v1h-1zM1096 294h1v1h-1zM633 295h1v1h-1zM1097 295h2v1h-2zM632 296h1v1h-1zM1099 296h2v1h-2zM631 297h1v1h-1zM1101 297h1v1h-1zM630 298h1v1h-1zM1102 298h2v1h-2zM629 299h1v1h-1zM1104 299h1v1h-1zM628 300h1v1h-1zM1105 300h2v1h-2zM627 301h1v1h-1zM1107 301h2v1h-2zM626 302h1v1h-1zM1109 302h1v1h-1zM625 303h1v1h-1zM1110 303h2v1h-2zM624 304h1v1h-1zM1112 304h1v1h-1zM623 305h1v1h-1zM1113 305h2v1h-2zM622 306h1v1h-1zM1115 306h2v1h-2zM621 307h1v1h-1zM1117 307h1v1h-1zM620 308h1v1h-1zM1118 308h2v1h-2zM619 309h1v1h-1zM1120 309h1v1h-1zM618 310h1v1h-1zM1121 310h2v1h-2zM617 311h1v1h-1zM1123 311h2v1h-2zM616 312h1v1h-1zM1125 312h1v1h-1zM615 313h1v1h-1zM1126 313h2v1h-2zM614 314h1v1h-1zM1128 314h2v1h-2zM613 315h1v1h-1zM1130 315h2v1h-2zM612 316h1v1h-1zM1132 316h3v1h-3zM611 317h1v1h-1zM1135 317h4v1h-4zM609 318h2v1h-2zM1139 318h4v1h-4zM608 319h1v1h-1zM1143 319h4v1h-4zM607 320h1v1h-1zM1147 320h6v1h-6zM606 321h1v1h-1zM1153 321h21v1h-21zM605 322h1v1h-1zM604 323h1v1h-1zM603 324h1v1h-1zM601 325h2v1h-2zM600 326h1v1h-1zM599 327h1v1h-1zM598 328h1v1h-1zM597 329h1v1h-1zM595 330h2v1h-2zM593 331h2v1h-2zM592 332h1v1h-1zM590 333h2v1h-2zM589 334h1v1h-1zM587 335h2v1h-2zM586 336h1v1h-1zM585 337h1v1h-1zM583 338h2v1h-2zM582 339h1v1h-1zM581 340h1v1h-1zM579 341h2v1h-2zM578 342h1v1h-1zM577 343h1v1h-1zM575 344h2v1h-2zM574 345h1v1h-1zM572 346h2v1h-2zM569 347h3v1h-3zM567 348h2v1h-2zM564 349h3v1h-3zM561 350h3v1h-3zM559 351h2v1h-2zM555 352h4v1h-4zM551 353h4v1h-4zM547 354h4v1h-4zM543 355h4v1h-4zM537 356h6v1h-6zM529 357h8v1h-8zM521 358h8v1h-8zM433 359h16v1h-16zM505 359h16v1h-16zM425 360h8v1h-8zM449 360h8v1h-8zM489 360h16v1h-16zM417 361h8v1h-8zM457 361h6v1h-6zM481 361h8v1h-8zM409 362h8v1h-8zM463 362h4v1h-4zM473 362h8v1h-8zM403 363h6v1h-6zM467 363h6v1h-6zM399 364h4v1h-4zM396 365h3v1h-3zM393 366h3v1h-3zM391 367h2v1h-2zM387 368h4v1h-4zM383 369h4v1h-4zM379 370h4v1h-4zM375 371h4v1h-4zM371 372h4v1h-4zM367 373h4v1h-4zM361 374h6v1h-6zM355 375h6v1h-6zM351 376h4v1h-4zM345 377h6v1h-6zM337 378h8v1h-8zM331 379h6v1h-6zM327 380h4v1h-4zM323 381h4v1h-4zM319 382h4v1h-4zM113 383h32v1h-32zM315 383h4v1h-4zM107 384h6v1h-6zM145 384h8v1h-8zM311 384h4v1h-4zM103 385h4v1h-4zM153 385h8v1h-8zM307 385h4v1h-4zM97 386h6v1h-6zM161 386h22v1h-22zM303 386h4v1h-4zM89 387h8v1h-8zM183 387h4v1h-4zM299 387h4v1h-4zM73 388h16v1h-16zM187 388h4v1h-4zM295 388h4v1h-4zM57 389h16v1h-16zM191 389h4v1h-4zM291 389h4v1h-4zM49 390h8v1h-8zM195 390h4v1h-4zM287 390h4v1h-4zM43 391h6v1h-6zM199 391h4v1h-4zM281 391h6v1h-6zM39 392h4v1h-4zM203 392h6v1h-6zM265 392h16v1h-16zM33 393h6v1h-6zM209 393h56v1h-56zM27 394h6v1h-6zM23 395h4v1h-4zM17 396h6v1h-6zM11 397h6v1h-6zM7 398h4v1h-4zM5 399h2v1h-2z" fill="#ff0000" shape-rendering="crispEdges"/>
<g shape-rendering="crispEdges">
<rect x="5.0" y="484.3" width="1" height="9.7" fill="#c0c0c0"/>
<rect x="13.0" y="485.1" width="1" height="8.9" fill="#c0c0c0"/>
<rect x="21.0" y="485.1" width="1" height="8.9" fill="#c0c0c0"/>
<rect x="29.0" y="484.3" width="1" height="9.7" fill="#c0c0c0"/>
<rect x="37.0" y="484.3" width="1" height="9.7" fill="#c0c0c0"/>
<rect x="45.0" y="484.3" width="1" height="9.7" fill="#c0c0c0"/>
<rect x="53.0" y="484.8" width="1" height="9.2" fill="#c0c0c0"/>
<rect x="61.0" y="485.9" width="1" height="8.1" fill="#c0c0c0"/>
<rect x="69.0" y="487.6" width="1" height="6.4" fill="#c0c0c0"/>
<rect x="77.0" y="488.8" width="1" height="5.2" fill="#c0c0c0"/>
<rect x="85.0" y="489.8" width="1" height="4.2" fill="#c0c0c0"/>
<rect x="93.0" y="490.9" width="1" height="3.1" fill="#c0c0c0"/>
<rect x="101.0" y="490.9" width="1" height="3.1" fill="#c0c0c0"/>
<rect x="109.0" y="490.4" width="1" height="3.6" fill="#c0c0c0"/>
<rect x="117.0" y="489.8" width="1" height="4.2" fill="#c0c0c0"/>
<rect x="125.0" y="491.4" width="1" height="2.6" fill="#c0c0c0"/>
<rect x="173.0" y="493.0" width="1" height="1.5" fill="#c0c0c0"/>
<rect x="181.0" y="493.0" width="1" height="1.5" fill="#c0c0c0"/>
<rect x="189.0" y="493.0" width="1" height="1.5" fill="#c0c0c0"/>
<rect x="197.0" y="493.0" width="1" height="1.8" fill="#c0c0c0"/>
<rect x="205.0" y="493.0" width="1" height="3.8" fill="#c0c0c0"/>
<rect x="213.0" y="493.0" width="1" height="3.4" fill="#c0c0c0"/>
<rect x="221.0" y="493.0" width="1" height="2.5" fill="#c0c0c0"/>
<rect x="229.0" y="493.0" width="1" height="2.0" fill="#c0c0c0"/>
<rect x="237.0" y="492.8" width="1" height="1.2" fill="#c0c0c0"/>
<rect x="245.0" y="492.5" width="1" height="1.5" fill="#c0c0c0"/>
<rect x="253.0" y="492.5" width="1" height="1.5" fill="#c0c0c0"/>
<rect x="261.0" y="492.8" width="1" height="1.2" fill="#c0c0c0"/>
<rect x="269.0" y="492.8" width="1" height="1.2" fill="#c0c0c0"/>
<rect x="277.0" y="490.1" width="1" height="3.9" fill="#c0c0c0"/>
<rect x="285.0" y="488.1" width="1" height="5.9" fill="#c0c0c0"/>
<rect x="293.0" y="486.8" width="1" height="7.2" fill="#c0c0c0"/>
<rect x="301.0" y="483.9" width="1" height="10.1" fill="#c0c0c0"/>
<rect x="309.0" y="483.9" width="1" height="10.1" fill="#c0c0c0"/>
<rect x="317.0" y="483.9" width="1" height="10.1" fill="#c0c0c0"/>
<rect x="325.0" y="483.9" width="1" height="10.1" fill="#c0c0c0"/>
<rect x="333.0" y="483.9" width="1" height="10.1" fill="#c0c0c0"/>
<rect x="341.0" y="483.9" width="1" height="10.1" fill="#c0c0c0"/>
<rect x="349.0" y="483.9" width="1" height="10.1" fill="#c0c0c0"/>
<rect x="357.0" y="484.8" width="1" height="9.2" fill="#c0c0c0"/>
<rect x="365.0" y="485.9" width="1" height="8.1" fill="#c0c0c0"/>
<rect x="373.0" y="485.9" width="1" height="8.1" fill="#c0c0c0"/>
<rect x="381.0" y="484.8" width="1" height="9.2" fill="#c0c0c0"/>
<rect x="389.0" y="483.1" width="1" height="10.9" fill="#c0c0c0"/>
<rect x="397.0" y="480.9" width="1" height="13.1" fill="#c0c0c0"/>
<rect x="405.0" y="480.9" width="1" height="13.1" fill="#c0c0c0"/>
<rect x="413.0" y="483.4" width="1" height="10.6" fill="#c0c0c0"/>
<rect x="421.0" y="485.9" width="1" height="8.1" fill="#c0c0c0"/>
<rect x="429.0" y="485.9" width="1" height="8.1" fill="#c0c0c0"/>
<rect x="437.0" y="487.1" width="1" height="6.9" fill="#c0c0c0"/>
<rect x="445.0" y="490.1" width="1" height="3.9" fill="#c0c0c0"/>
<rect x="453.0" y="492.1" width="1" height="1.9" fill="#c0c0c0"/>
<rect x="469.0" y="493.0" width="1" height="1.8" fill="#c0c0c0"/>
<rect x="485.0" y="491.3" width="1" height="2.7" fill="#c0c0c0"/>
<rect x="493.0" y="490.4" width="1" height="3.6" fill="#c0c0c0"/>
<rect x="501.0" y="489.8" width="1" height="4.2" fill="#c0c0c0"/>
<rect x="509.0" y="489.8" width="1" height="4.2" fill="#c0c0c0"/>
<rect x="517.0" y="489.8" width="1" height="4.2" fill="#c0c0c0"/>
<rect x="525.0" y="489.3" width="1" height="4.7" fill="#c0c0c0"/>
<rect x="533.0" y="488.1" width="1" height="5.9" fill="#c0c0c0"/>
<rect x="541.0" y="485.9" width="1" height="8.1" fill="#c0c0c0"/>
<rect x="549.0" y="482.1" width="1" height="11.9" fill="#c0c0c0"/>
<rect x="557.0" y="477.2" width="1" height="16.8" fill="#c0c0c0"/>
<rect x="565.0" y="474.2" width="1" height="19.8" fill="#c0c0c0"/>
<rect x="573.0" y="470.1" width="1" height="23.9" fill="#c0c0c0"/>
<rect x="581.0" y="465.9" width="1" height="28.1" fill="#c0c0c0"/>
<rect x="589.0" y="460.9" width="1" height="33.1" fill="#c0c0c0"/>
<rect x="597.0" y="458.0" width="1" height="36.0" fill="#c0c0c0"/>
<rect x="605.0" y="457.0" width="1" height="37.0" fill="#c0c0c0"/>
<rect x="613.0" y="453.0" width="1" height="41.0" fill="#c0c0c0"/>
<rect x="621.0" y="450.9" width="1" height="43.1" fill="#c0c0c0"/>
<rect x="629.0" y="447.0" width="1" height="47.0" fill="#c0c0c0"/>
<rect x="637.0" y="445.0" width="1" height="49.0" fill="#c0c0c0"/>
<rect x="645.0" y="443.9" width="1" height="50.1" fill="#c0c0c0"/>
<rect x="653.0" y="448.0" width="1" height="46.0" fill="#c0c0c0"/>
<rect x="661.0" y="452.0" width="1" height="42.0" fill="#c0c0c0"/>
<rect x="669.0" y="455.9" width="1" height="38.1" fill="#c0c0c0"/>
<rect x="677.0" y="458.9" width="1" height="35.1" fill="#c0c0c0"/>
<rect x="685.0" y="461.7" width="1" height="32.3" fill="#c0c0c0"/>
<rect x="693.0" y="462.9" width="1" height="31.1" fill="#c0c0c0"/>
<rect x="701.0" y="463.9" width="1" height="30.1" fill="#c0c0c0"/>
<rect x="709.0" y="460.9" width="1" height="33.1" fill="#c0c0c0"/>
<rect x="717.0" y="460.0" width="1" height="34.0" fill="#c0c0c0"/>
<rect x="725.0" y="448.9" width="1" height="45.1" fill="#c0c0c0"/>
<rect x="733.0" y="443.0" width="1" height="51.0" fill="#c0c0c0"/>
<rect x="741.0" y="437.8" width="1" height="56.2" fill="#c0c0c0"/>
<rect x="749.0" y="437.8" width="1" height="56.2" fill="#c0c0c0"/>
<rect x="757.0" y="440.0" width="1" height="54.0" fill="#c0c0c0"/>
<rect x="765.0" y="443.0" width="1" height="51.0" fill="#c0c0c0"/>
<rect x="773.0" y="445.0" width="1" height="49.0" fill="#c0c0c0"/>
<rect x="781.0" y="445.0" width="1" height="49.0" fill="#c0c0c0"/>
<rect x="789.0" y="445.0" width="1" height="49.0" fill="#c0c0c0"/>
<rect x="797.0" y="445.9" width="1" height="48.1" fill="#c0c0c0"/>
<rect x="805.0" y="443.0" width="1" height="51.0" fill="#c0c0c0"/>
<rect x="813.0" y="443.0" width="1" height="51.0" fill="#c0c0c0"/>
<rect x="821.0" y="443.9" width="1" height="50.1" fill="#c0c0c0"/>
<rect x="829.0" y="443.9" width="1" height="50.1" fill="#c0c0c0"/>
<rect x="837.0" y="446.2" width="1" height="47.8" fill="#c0c0c0"/>
<rect x="845.0" y="452.0" width="1" height="42.0" fill="#c0c0c0"/>
<rect x="853.0" y="460.0" width="1" height="34.0" fill="#c0c0c0"/>
<rect x="861.0" y="473.1" width="1" height="20.9" fill="#c0c0c0"/>
<rect x="869.0" y="483.9" width="1" height="10.1" fill="#c0c0c0"/>
<rect x="877.0" y="490.9" width="1" height="3.1" fill="#c0c0c0"/>
<rect x="885.0" y="493.0" width="1" height="1.0" fill="#c0c0c0"/>
<rect x="893.0" y="493.0" width="1" height="4.9" fill="#c0c0c0"/>
<rect x="901.0" y="493.0" width="1" height="11.0" fill="#c0c0c0"/>
<rect x="909.0" y="493.0" width="1" height="16.8" fill="#c0c0c0"/>
<rect x="917.0" y="493.0" width="1" height="21.8" fill="#c0c0c0"/>
<rect x="925.0" y="493.0" width="1" height="25.0" fill="#c0c0c0"/>
<rect x="933.0" y="493.0" width="1" height="25.0" fill="#c0c0c0"/>
<rect x="941.0" y="493.0" width="1" height="25.8" fill="#c0c0c0"/>
<rect x="949.0" y="493.0" width="1" height="26.8" fill="#c0c0c0"/>
<rect x="957.0" y="493.0" width="1" height="25.0" fill="#c0c0c0"/>
<rect x="965.0" y="493.0" width="1" height="23.8" fill="#c0c0c0"/>
<rect x="973.0" y="493.0" width="1" height="24.6" fill="#c0c0c0"/>
<rect x="981.0" y="493.0" width="1" height="25.8" fill="#c0c0c0"/>
<rect x="989.0" y="493.0" width="1" height="25.8" fill="#c0c0c0"/>
<rect x="997.0" y="493.0" width="1" height="26.8" fill="#c0c0c0"/>
<rect x="1005.0" y="493.0" width="1" height="29.7" fill="#c0c0c0"/>
<rect x="1013.0" y="493.0" width="1" height="30.8" fill="#c0c0c0"/>
<rect x="1021.0" y="493.0" width="1" height="31.8" fill="#c0c0c0"/>
<rect x="1029.0" y="493.0" width="1" height="34.7" fill="#c0c0c0"/>
<rect x="1037.0" y="493.0" width="1" height="37.7" fill="#c0c0c0"/>
<rect x="1045.0" y="493.0" width="1" height="40.5" fill="#c0c0c0"/>
<rect x="1053.0" y="493.0" width="1" height="42.5" fill="#c0c0c0"/>
<rect x="1061.0" y="493.0" width="1" height="43.5" fill="#c0c0c0"/>
<rect x="1069.0" y="493.0" width="1" height="44.7" fill="#c0c0c0"/>
<rect x="1077.0" y="493.0" width="1" height="43.5" fill="#c0c0c0"/>
<rect x="1085.0" y="493.0" width="1" height="40.8" fill="#c0c0c0"/>
<rect x="1093.0" y="493.0" width="1" height="39.7" fill="#c0c0c0"/>
<rect x="1101.0" y="493.0" width="1" height="38.5" fill="#c0c0c0"/>
<rect x="1109.0" y="493.0" width="1" height="39.7" fill="#c0c0c0"/>
<rect x="1117.0" y="493.0" width="1" height="39.7" fill="#c0c0c0"/>
<rect x="1125.0" y="493.0" width="1" height="36.7" fill="#c0c0c0"/>
<rect x="1133.0" y="493.0" width="1" height="33.5" fill="#c0c0c0"/>
<rect x="1141.0" y="493.0" width="1" height="28.5" fill="#c0c0c0"/>
<rect x="1149.0" y="493.0" width="1" height="21.8" fill="#c0c0c0"/>
<rect x="1157.0" y="493.0" width="1" height="16.8" fill="#c0c0c0"/>
<rect x="1165.0" y="493.0" width="1" height="12.6" fill="#c0c0c0"/>
<rect x="1173.0" y="493.0" width="1" height="8.8" fill="#c0c0c0"/>
</g>
<path d="M795 441h5v1h-5zM803 441h5v1h-5zM787 442h5v1h-5zM811 442h5v1h-5zM779 443h5v1h-5zM819 443h5v1h-5zM827 443h5v1h-5zM835 443h5v1h-5zM775 444h1v1h-1zM843 444h4v1h-4zM771 445h4v1h-4zM847 445h1v1h-1zM767 446h1v1h-1zM851 446h4v1h-4zM764 447h3v1h-3zM855 447h1v1h-1zM763 448h1v1h-1zM859 448h1v1h-1zM667 449h5v1h-5zM759 449h1v1h-1zM860 449h2v1h-2zM659 450h5v1h-5zM675 450h5v1h-5zM755 450h4v1h-4zM862 450h2v1h-2zM651 451h5v1h-5zM683 451h5v1h-5zM751 451h1v1h-1zM647 452h1v1h-1zM691 452h4v1h-4zM748 452h3v1h-3zM867 452h1v1h-1zM643 453h4v1h-4zM695 453h1v1h-1zM747 453h1v1h-1zM868 453h2v1h-2zM639 454h1v1h-1zM699 454h4v1h-4zM743 454h1v1h-1zM870 454h1v1h-1zM636 455h3v1h-3zM703 455h1v1h-1zM739 455h4v1h-4zM871 455h1v1h-1zM635 456h1v1h-1zM707 456h5v1h-5zM735 456h1v1h-1zM715 457h5v1h-5zM731 457h4v1h-4zM630 458h2v1h-2zM723 458h5v1h-5zM875 458h2v1h-2zM628 459h2v1h-2zM877 459h1v1h-1zM627 460h1v1h-1zM878 460h2v1h-2zM623 461h1v1h-1zM620 462h3v1h-3zM619 463h1v1h-1zM883 463h2v1h-2zM615 464h1v1h-1zM885 464h1v1h-1zM612 465h3v1h-3zM886 465h1v1h-1zM611 466h1v1h-1zM887 466h1v1h-1zM606 468h2v1h-2zM604 469h2v1h-2zM891 469h2v1h-2zM603 470h1v1h-1zM893 470h1v1h-1zM894 471h1v1h-1zM598 472h2v1h-2zM895 472h1v1h-1zM596 473h2v1h-2zM595 474h1v1h-1zM591 475h1v1h-1zM899 475h1v1h-1zM588 476h3v1h-3zM900 476h1v1h-1zM587 477h1v1h-1zM901 477h1v1h-1zM583 478h1v1h-1zM902 478h1v1h-1zM580 479h3v1h-3zM903 479h1v1h-1zM579 480h1v1h-1zM575 481h1v1h-1zM571 482h4v1h-4zM395 483h5v1h-5zM403 483h5v1h-5zM411 483h5v1h-5zM419 483h5v1h-5zM427 483h5v1h-5zM435 483h5v1h-5zM567 483h1v1h-1zM907 483h1v1h-1zM43 484h5v1h-5zM51 484h5v1h-5zM59 484h5v1h-5zM67 484h5v1h-5zM75 484h5v1h-5zM347 484h5v1h-5zM355 484h5v1h-5zM363 484h5v1h-5zM371 484h5v1h-5zM379 484h5v1h-5zM387 484h5v1h-5zM443 484h5v1h-5zM563 484h4v1h-4zM908 484h1v1h-1zM35 485h5v1h-5zM83 485h5v1h-5zM331 485h5v1h-5zM339 485h5v1h-5zM451 485h5v1h-5zM559 485h1v1h-1zM909 485h1v1h-1zM27 486h5v1h-5zM91 486h5v1h-5zM327 486h1v1h-1zM459 486h5v1h-5zM555 486h4v1h-4zM910 486h1v1h-1zM19 487h5v1h-5zM99 487h5v1h-5zM107 487h5v1h-5zM323 487h4v1h-4zM467 487h4v1h-4zM547 487h5v1h-5zM911 487h1v1h-1zM11 488h5v1h-5zM115 488h5v1h-5zM315 488h5v1h-5zM471 488h1v1h-1zM539 488h5v1h-5zM5 489h3v1h-3zM123 489h5v1h-5zM131 489h5v1h-5zM307 489h5v1h-5zM475 489h5v1h-5zM483 489h5v1h-5zM531 489h5v1h-5zM139 490h5v1h-5zM147 490h5v1h-5zM299 490h5v1h-5zM491 490h5v1h-5zM499 490h5v1h-5zM507 490h5v1h-5zM515 490h5v1h-5zM523 490h5v1h-5zM915 490h1v1h-1zM155 491h5v1h-5zM163 491h5v1h-5zM291 491h5v1h-5zM916 491h1v1h-1zM171 492h5v1h-5zM287 492h1v1h-1zM917 492h1v1h-1zM179 493h5v1h-5zM187 493h5v1h-5zM283 493h4v1h-4zM918 493h1v1h-1zM195 494h5v1h-5zM203 494h5v1h-5zM275 494h5v1h-5zM919 494h1v1h-1zM211 495h5v1h-5zM219 495h5v1h-5zM227 495h5v1h-5zM235 495h5v1h-5zM243 495h5v1h-5zM251 495h5v1h-5zM259 495h5v1h-5zM267 495h5v1h-5zM923 497h2v1h-2zM925 498h1v1h-1zM926 499h2v1h-2zM931 501h1v1h-1zM932 502h2v1h-2zM934 503h2v1h-2zM939 506h2v1h-2zM941 507h1v1h-1zM942 508h2v1h-2zM947 510h1v1h-1zM948 511h3v1h-3zM951 512h1v1h-1zM955 513h4v1h-4zM959 514h1v1h-1zM963 515h4v1h-4zM967 516h1v1h-1zM971 517h5v1h-5zM979 518h5v1h-5zM987 518h5v1h-5zM995 518h5v1h-5zM1003 519h5v1h-5zM1011 519h5v1h-5zM1019 520h5v1h-5zM1172 520h2v1h-2zM1027 521h4v1h-4zM1171 521h1v1h-1zM1031 522h1v1h-1zM1167 522h1v1h-1zM1035 523h5v1h-5zM1164 523h3v1h-3zM1043 524h4v1h-4zM1163 524h1v1h-1zM1047 525h1v1h-1zM1159 525h1v1h-1zM1051 526h4v1h-4zM1156 526h3v1h-3zM1055 527h1v1h-1zM1155 527h1v1h-1zM1059 528h1v1h-1zM1151 528h1v1h-1zM1060 529h3v1h-3zM1147 529h4v1h-4zM1063 530h1v1h-1zM1143 530h1v1h-1zM1067 531h5v1h-5zM1139 531h4v1h-4zM1075 532h5v1h-5zM1135 532h1v1h-1zM1083 533h5v1h-5zM1131 533h4v1h-4zM1091 534h5v1h-5zM1123 534h5v1h-5zM1099 535h5v1h-5zM1107 535h5v1h-5zM1115 535h5v1h-5z" fill="#ff0000" shape-rendering="crispEdges"/>
<line x1="5" x2="1192" y1="582.5" y2="582.5" stroke="#c0c0c0" stroke-width="1" stroke-dasharray="3 3" stroke-dashoffset="5" shape-rendering="crispEdges"/>
<line x1="5" x2="1192" y1="629.5" y2="629.5" stroke="#c0c0c0" stroke-width="1" stroke-dasharray="3 3" stroke-dashoffset="5" shape-rendering="crispEdges"/>
<path d="M628 571h11v1h-11zM588 572h10v1h-10zM625 572h3v1h-3zM639 572h2v1h-2zM725 572h1v1h-1zM585 573h3v1h-3zM598 573h1v1h-1zM623 573h2v1h-2zM641 573h3v1h-3zM724 573h1v1h-1zM726 573h2v1h-2zM583 574h2v1h-2zM599 574h1v1h-1zM613 574h10v1h-10zM644 574h2v1h-2zM724 574h1v1h-1zM728 574h2v1h-2zM580 575h3v1h-3zM600 575h1v1h-1zM611 575h2v1h-2zM645 575h1v1h-1zM723 575h1v1h-1zM730 575h2v1h-2zM578 576h2v1h-2zM601 576h1v1h-1zM610 576h1v1h-1zM646 576h1v1h-1zM723 576h1v1h-1zM732 576h10v1h-10zM576 577h2v1h-2zM602 577h1v1h-1zM609 577h1v1h-1zM646 577h1v1h-1zM722 577h1v1h-1zM742 577h1v1h-1zM574 578h2v1h-2zM603 578h1v1h-1zM607 578h2v1h-2zM647 578h1v1h-1zM721 578h1v1h-1zM743 578h1v1h-1zM5 579h1v1h-1zM397 579h1v1h-1zM557 579h2v1h-2zM571 579h3v1h-3zM604 579h1v1h-1zM606 579h1v1h-1zM647 579h1v1h-1zM721 579h1v1h-1zM744 579h1v1h-1zM805 579h1v1h-1zM5 580h1v1h-1zM395 580h2v1h-2zM398 580h1v1h-1zM555 580h2v1h-2zM559 580h4v1h-4zM567 580h4v1h-4zM605 580h1v1h-1zM648 580h1v1h-1zM720 580h1v1h-1zM745 580h1v1h-1zM804 580h1v1h-1zM806 580h1v1h-1zM6 581h1v1h-1zM394 581h1v1h-1zM398 581h1v1h-1zM554 581h1v1h-1zM563 581h4v1h-4zM648 581h1v1h-1zM719 581h1v1h-1zM746 581h1v1h-1zM803 581h1v1h-1zM807 581h1v1h-1zM6 582h1v1h-1zM393 582h1v1h-1zM399 582h1v1h-1zM553 582h1v1h-1zM649 582h1v1h-1zM719 582h1v1h-1zM747 582h1v1h-1zM802 582h1v1h-1zM808 582h1v1h-1zM7 583h1v1h-1zM391 583h2v1h-2zM399 583h1v1h-1zM551 583h2v1h-2zM649 583h1v1h-1zM718 583h1v1h-1zM748 583h1v1h-1zM801 583h1v1h-1zM809 583h1v1h-1zM7 584h1v1h-1zM301 584h1v1h-1zM390 584h1v1h-1zM400 584h1v1h-1zM550 584h1v1h-1zM649 584h1v1h-1zM709 584h4v1h-4zM718 584h1v1h-1zM749 584h1v1h-1zM800 584h1v1h-1zM810 584h1v1h-1zM8 585h1v1h-1zM300 585h1v1h-1zM302 585h1v1h-1zM389 585h1v1h-1zM400 585h1v1h-1zM549 585h1v1h-1zM650 585h1v1h-1zM708 585h1v1h-1zM713 585h5v1h-5zM750 585h1v1h-1zM799 585h1v1h-1zM811 585h1v1h-1zM827 585h3v1h-3zM8 586h1v1h-1zM299 586h1v1h-1zM303 586h1v1h-1zM387 586h2v1h-2zM401 586h1v1h-1zM547 586h2v1h-2zM650 586h1v1h-1zM707 586h1v1h-1zM751 586h2v1h-2zM785 586h8v1h-8zM798 586h1v1h-1zM812 586h1v1h-1zM823 586h4v1h-4zM830 586h2v1h-2zM8 587h1v1h-1zM29 587h17v1h-17zM284 587h2v1h-2zM297 587h2v1h-2zM304 587h1v1h-1zM385 587h2v1h-2zM402 587h1v1h-1zM545 587h2v1h-2zM651 587h1v1h-1zM706 587h1v1h-1zM753 587h1v1h-1zM779 587h6v1h-6zM793 587h5v1h-5zM813 587h10v1h-10zM832 587h2v1h-2zM9 588h1v1h-1zM28 588h1v1h-1zM46 588h1v1h-1zM281 588h3v1h-3zM286 588h2v1h-2zM296 588h1v1h-1zM305 588h1v1h-1zM384 588h1v1h-1zM402 588h1v1h-1zM544 588h1v1h-1zM651 588h1v1h-1zM705 588h1v1h-1zM754 588h1v1h-1zM775 588h4v1h-4zM834 588h2v1h-2zM9 589h1v1h-1zM27 589h1v1h-1zM47 589h1v1h-1zM279 589h2v1h-2zM288 589h2v1h-2zM295 589h1v1h-1zM305 589h1v1h-1zM382 589h2v1h-2zM403 589h1v1h-1zM542 589h2v1h-2zM652 589h1v1h-1zM704 589h1v1h-1zM755 589h2v1h-2zM772 589h3v1h-3zM836 589h2v1h-2zM10 590h1v1h-1zM25 590h2v1h-2zM48 590h1v1h-1zM277 590h2v1h-2zM290 590h2v1h-2zM294 590h1v1h-1zM306 590h1v1h-1zM381 590h1v1h-1zM403 590h1v1h-1zM541 590h1v1h-1zM652 590h1v1h-1zM703 590h1v1h-1zM757 590h2v1h-2zM769 590h3v1h-3zM838 590h1v1h-1zM10 591h1v1h-1zM24 591h1v1h-1zM49 591h1v1h-1zM275 591h2v1h-2zM292 591h2v1h-2zM307 591h1v1h-1zM380 591h1v1h-1zM404 591h1v1h-1zM540 591h1v1h-1zM653 591h1v1h-1zM702 591h1v1h-1zM759 591h4v1h-4zM767 591h2v1h-2zM838 591h1v1h-1zM10 592h1v1h-1zM23 592h1v1h-1zM50 592h1v1h-1zM117 592h1v1h-1zM274 592h1v1h-1zM308 592h1v1h-1zM379 592h1v1h-1zM404 592h1v1h-1zM539 592h1v1h-1zM653 592h1v1h-1zM693 592h9v1h-9zM763 592h4v1h-4zM839 592h1v1h-1zM11 593h1v1h-1zM22 593h1v1h-1zM51 593h1v1h-1zM115 593h3v1h-3zM273 593h1v1h-1zM309 593h1v1h-1zM377 593h2v1h-2zM405 593h1v1h-1zM538 593h1v1h-1zM654 593h2v1h-2zM676 593h2v1h-2zM692 593h1v1h-1zM839 593h1v1h-1zM11 594h1v1h-1zM20 594h2v1h-2zM52 594h1v1h-1zM114 594h1v1h-1zM118 594h1v1h-1zM271 594h2v1h-2zM310 594h2v1h-2zM376 594h1v1h-1zM406 594h1v1h-1zM537 594h1v1h-1zM656 594h2v1h-2zM674 594h2v1h-2zM678 594h1v1h-1zM691 594h1v1h-1zM840 594h1v1h-1zM12 595h1v1h-1zM18 595h2v1h-2zM53 595h1v1h-1zM113 595h1v1h-1zM118 595h1v1h-1zM270 595h1v1h-1zM312 595h2v1h-2zM340 595h2v1h-2zM375 595h1v1h-1zM406 595h1v1h-1zM536 595h1v1h-1zM658 595h2v1h-2zM672 595h2v1h-2zM679 595h2v1h-2zM689 595h2v1h-2zM841 595h1v1h-1zM12 596h1v1h-1zM16 596h2v1h-2zM54 596h1v1h-1zM111 596h2v1h-2zM118 596h1v1h-1zM236 596h2v1h-2zM269 596h1v1h-1zM314 596h2v1h-2zM337 596h3v1h-3zM342 596h2v1h-2zM374 596h1v1h-1zM407 596h1v1h-1zM477 596h9v1h-9zM535 596h1v1h-1zM660 596h5v1h-5zM670 596h2v1h-2zM681 596h1v1h-1zM688 596h1v1h-1zM841 596h1v1h-1zM13 597h3v1h-3zM55 597h1v1h-1zM110 597h1v1h-1zM119 597h1v1h-1zM234 597h2v1h-2zM238 597h1v1h-1zM267 597h2v1h-2zM316 597h5v1h-5zM335 597h2v1h-2zM344 597h1v1h-1zM369 597h5v1h-5zM407 597h1v1h-1zM477 597h1v1h-1zM486 597h2v1h-2zM534 597h1v1h-1zM665 597h5v1h-5zM682 597h1v1h-1zM687 597h1v1h-1zM842 597h1v1h-1zM13 598h1v1h-1zM55 598h1v1h-1zM105 598h5v1h-5zM119 598h1v1h-1zM232 598h2v1h-2zM239 598h1v1h-1zM265 598h2v1h-2zM321 598h14v1h-14zM345 598h2v1h-2zM355 598h14v1h-14zM408 598h1v1h-1zM476 598h1v1h-1zM488 598h1v1h-1zM532 598h2v1h-2zM683 598h2v1h-2zM686 598h1v1h-1zM843 598h1v1h-1zM56 599h1v1h-1zM101 599h4v1h-4zM119 599h1v1h-1zM230 599h2v1h-2zM240 599h1v1h-1zM264 599h1v1h-1zM347 599h2v1h-2zM351 599h4v1h-4zM408 599h1v1h-1zM476 599h1v1h-1zM489 599h2v1h-2zM499 599h4v1h-4zM529 599h3v1h-3zM685 599h1v1h-1zM843 599h1v1h-1zM1149 599h4v1h-4zM1161 599h13v1h-13zM57 600h1v1h-1zM100 600h1v1h-1zM120 600h1v1h-1zM227 600h3v1h-3zM241 600h1v1h-1zM262 600h2v1h-2zM349 600h2v1h-2zM409 600h1v1h-1zM475 600h1v1h-1zM491 600h2v1h-2zM495 600h4v1h-4zM503 600h4v1h-4zM527 600h2v1h-2zM844 600h1v1h-1zM1148 600h1v1h-1zM1153 600h8v1h-8zM58 601h1v1h-1zM99 601h1v1h-1zM120 601h1v1h-1zM223 601h4v1h-4zM241 601h1v1h-1zM261 601h1v1h-1zM409 601h1v1h-1zM429 601h2v1h-2zM475 601h1v1h-1zM493 601h2v1h-2zM507 601h6v1h-6zM521 601h6v1h-6zM844 601h1v1h-1zM1147 601h1v1h-1zM59 602h1v1h-1zM99 602h1v1h-1zM120 602h1v1h-1zM221 602h2v1h-2zM242 602h1v1h-1zM259 602h2v1h-2zM410 602h1v1h-1zM428 602h1v1h-1zM431 602h2v1h-2zM474 602h1v1h-1zM513 602h8v1h-8zM845 602h1v1h-1zM1146 602h1v1h-1zM59 603h1v1h-1zM98 603h1v1h-1zM121 603h1v1h-1zM220 603h1v1h-1zM243 603h1v1h-1zM258 603h1v1h-1zM410 603h1v1h-1zM427 603h1v1h-1zM433 603h3v1h-3zM474 603h1v1h-1zM846 603h1v1h-1zM1145 603h1v1h-1zM60 604h1v1h-1zM97 604h1v1h-1zM121 604h1v1h-1zM145 604h6v1h-6zM219 604h1v1h-1zM244 604h1v1h-1zM257 604h1v1h-1zM411 604h1v1h-1zM425 604h2v1h-2zM436 604h2v1h-2zM473 604h1v1h-1zM847 604h1v1h-1zM1144 604h1v1h-1zM61 605h1v1h-1zM96 605h1v1h-1zM122 605h1v1h-1zM141 605h4v1h-4zM151 605h4v1h-4zM218 605h1v1h-1zM245 605h2v1h-2zM255 605h2v1h-2zM411 605h1v1h-1zM424 605h1v1h-1zM438 605h1v1h-1zM473 605h1v1h-1zM848 605h1v1h-1zM1143 605h1v1h-1zM62 606h2v1h-2zM83 606h4v1h-4zM95 606h1v1h-1zM122 606h1v1h-1zM140 606h1v1h-1zM155 606h4v1h-4zM217 606h1v1h-1zM247 606h4v1h-4zM254 606h1v1h-1zM412 606h1v1h-1zM423 606h1v1h-1zM439 606h1v1h-1zM472 606h1v1h-1zM849 606h2v1h-2zM1142 606h1v1h-1zM64 607h1v1h-1zM79 607h4v1h-4zM87 607h2v1h-2zM95 607h1v1h-1zM122 607h1v1h-1zM139 607h1v1h-1zM159 607h2v1h-2zM216 607h1v1h-1zM251 607h3v1h-3zM412 607h1v1h-1zM422 607h1v1h-1zM440 607h1v1h-1zM472 607h1v1h-1zM851 607h1v1h-1zM1141 607h1v1h-1zM65 608h2v1h-2zM75 608h4v1h-4zM89 608h3v1h-3zM94 608h1v1h-1zM123 608h1v1h-1zM138 608h1v1h-1zM161 608h3v1h-3zM215 608h1v1h-1zM413 608h1v1h-1zM417 608h5v1h-5zM441 608h2v1h-2zM471 608h1v1h-1zM852 608h1v1h-1zM1140 608h1v1h-1zM67 609h2v1h-2zM71 609h4v1h-4zM92 609h2v1h-2zM123 609h1v1h-1zM137 609h1v1h-1zM164 609h19v1h-19zM214 609h1v1h-1zM413 609h4v1h-4zM443 609h1v1h-1zM471 609h1v1h-1zM853 609h1v1h-1zM1139 609h1v1h-1zM69 610h2v1h-2zM123 610h1v1h-1zM137 610h1v1h-1zM183 610h2v1h-2zM213 610h1v1h-1zM444 610h1v1h-1zM470 610h1v1h-1zM854 610h1v1h-1zM1138 610h1v1h-1zM124 611h1v1h-1zM136 611h1v1h-1zM185 611h3v1h-3zM212 611h1v1h-1zM445 611h1v1h-1zM460 611h5v1h-5zM470 611h1v1h-1zM854 611h1v1h-1zM1137 611h1v1h-1zM124 612h1v1h-1zM135 612h1v1h-1zM188 612h5v1h-5zM211 612h1v1h-1zM446 612h2v1h-2zM458 612h2v1h-2zM465 612h5v1h-5zM855 612h1v1h-1zM1136 612h1v1h-1zM124 613h1v1h-1zM134 613h1v1h-1zM193 613h5v1h-5zM210 613h1v1h-1zM448 613h2v1h-2zM456 613h2v1h-2zM856 613h1v1h-1zM956 613h11v1h-11zM1135 613h1v1h-1zM125 614h1v1h-1zM129 614h5v1h-5zM198 614h1v1h-1zM209 614h1v1h-1zM450 614h2v1h-2zM454 614h2v1h-2zM857 614h1v1h-1zM883 614h11v1h-11zM953 614h3v1h-3zM967 614h2v1h-2zM1134 614h1v1h-1zM125 615h4v1h-4zM199 615h2v1h-2zM209 615h1v1h-1zM452 615h2v1h-2zM857 615h1v1h-1zM879 615h4v1h-4zM894 615h1v1h-1zM933 615h2v1h-2zM951 615h2v1h-2zM969 615h3v1h-3zM1132 615h2v1h-2zM201 616h1v1h-1zM208 616h1v1h-1zM858 616h1v1h-1zM876 616h3v1h-3zM895 616h2v1h-2zM932 616h1v1h-1zM935 616h2v1h-2zM947 616h4v1h-4zM972 616h3v1h-3zM1129 616h3v1h-3zM202 617h1v1h-1zM207 617h1v1h-1zM859 617h1v1h-1zM874 617h2v1h-2zM897 617h1v1h-1zM931 617h1v1h-1zM937 617h3v1h-3zM943 617h4v1h-4zM975 617h4v1h-4zM1085 617h1v1h-1zM1127 617h2v1h-2zM203 618h2v1h-2zM206 618h1v1h-1zM860 618h1v1h-1zM872 618h2v1h-2zM898 618h1v1h-1zM929 618h2v1h-2zM940 618h3v1h-3zM979 618h4v1h-4zM1083 618h2v1h-2zM1086 618h1v1h-1zM1125 618h2v1h-2zM205 619h1v1h-1zM860 619h1v1h-1zM870 619h2v1h-2zM899 619h2v1h-2zM928 619h1v1h-1zM983 619h4v1h-4zM1082 619h1v1h-1zM1087 619h1v1h-1zM1124 619h1v1h-1zM861 620h9v1h-9zM901 620h2v1h-2zM927 620h1v1h-1zM987 620h6v1h-6zM1081 620h1v1h-1zM1088 620h1v1h-1zM1123 620h1v1h-1zM903 621h4v1h-4zM926 621h1v1h-1zM993 621h5v1h-5zM1079 621h2v1h-2zM1089 621h2v1h-2zM1122 621h1v1h-1zM907 622h6v1h-6zM921 622h5v1h-5zM998 622h1v1h-1zM1078 622h1v1h-1zM1091 622h1v1h-1zM1121 622h1v1h-1zM913 623h8v1h-8zM999 623h2v1h-2zM1012 623h10v1h-10zM1077 623h1v1h-1zM1092 623h1v1h-1zM1120 623h1v1h-1zM1001 624h1v1h-1zM1010 624h2v1h-2zM1022 624h1v1h-1zM1076 624h1v1h-1zM1093 624h10v1h-10zM1119 624h1v1h-1zM1002 625h1v1h-1zM1008 625h2v1h-2zM1023 625h2v1h-2zM1075 625h1v1h-1zM1103 625h2v1h-2zM1118 625h1v1h-1zM1003 626h2v1h-2zM1006 626h2v1h-2zM1025 626h1v1h-1zM1075 626h1v1h-1zM1105 626h3v1h-3zM1113 626h5v1h-5zM1005 627h1v1h-1zM1026 627h1v1h-1zM1074 627h1v1h-1zM1108 627h5v1h-5zM1027 628h2v1h-2zM1073 628h1v1h-1zM1029 629h2v1h-2zM1072 629h1v1h-1zM1031 630h2v1h-2zM1071 630h1v1h-1zM1033 631h3v1h-3zM1052 631h5v1h-5zM1071 631h1v1h-1zM1036 632h3v1h-3zM1049 632h3v1h-3zM1057 632h8v1h-8zM1070 632h1v1h-1zM1039 633h4v1h-4zM1047 633h2v1h-2zM1065 633h5v1h-5zM1043 634h4v1h-4z" fill="#1e90ff" shape-rendering="crispEdges"/>
<g shape-rendering="crispEdges" fill="#000">
<rect x="4" y="3" width="1" height="662"/>
<rect x="1192" y="3" width="1" height="662"/>
<rect x="4" y="3" width="1189" height="1"/>
<rect x="4" y="428" width="1189" height="1"/>
<rect x="4" y="430" width="1189" height="1"/>
<rect x="4" y="544" width="1189" height="1"/>
<rect x="4" y="546" width="1189" height="1"/>
<rect x="4" y="664" width="1190" height="1"/>
<rect x="5" y="429" width="1190" height="1" fill="#fff"/>
<rect x="5" y="545" width="1190" height="1" fill="#fff"/>
<rect x="1193" y="29" width="2" height="1"/>
<rect x="1193" y="62" width="2" height="1"/>
<rect x="1193" y="95" width="2" height="1"/>
<rect x="1193" y="128" width="2" height="1"/>
<rect x="1193" y="161" width="2" height="1"/>
<rect x="1193" y="194" width="2" height="1"/>
<rect x="1193" y="227" width="2" height="1"/>
<rect x="1193" y="260" width="2" height="1"/>
<rect x="1193" y="293" width="2" height="1"/>
<rect x="1193" y="326" width="2" height="1"/>
<rect x="1193" y="359" width="2" height="1"/>
<rect x="1193" y="392" width="2" height="1"/>
<rect x="1193" y="425" width="2" height="1"/>
<rect x="1193" y="430" width="2" height="1"/>
<rect x="1193" y="493" width="2" height="1"/>
<rect x="1193" y="544" width="2" height="1"/>
<rect x="1193" y="546" width="2" height="1"/>
<rect x="1193" y="664" width="2" height="1"/>
<rect x="5" y="665" width="1" height="3"/>
<rect x="69" y="665" width="1" height="3"/>
<rect x="133" y="665" width="1" height="3"/>
<rect x="197" y="665" width="1" height="3"/>
<rect x="261" y="665" width="1" height="3"/>
<rect x="325" y="665" width="1" height="3"/>
<rect x="389" y="665" width="1" height="3"/>
<rect x="453" y="665" width="1" height="3"/>
<rect x="517" y="665" width="1" height="3"/>
<rect x="581" y="665" width="1" height="3"/>
<rect x="645" y="665" width="1" height="3"/>
<rect x="709" y="665" width="1" height="3"/>
<rect x="773" y="665" width="1" height="3"/>
<rect x="837" y="665" width="1" height="3"/>
<rect x="901" y="665" width="1" height="3"/>
<rect x="965" y="665" width="1" height="3"/>
<rect x="1029" y="665" width="1" height="3"/>
<rect x="1093" y="665" width="1" height="3"/>
<rect x="1157" y="665" width="1" height="3"/>
</g>
<rect x="5" y="172" width="1188" height="2" fill="#ff0000" shape-rendering="crispEdges"/>
<rect x="5" y="229" width="1188" height="2" fill="#ff0000" shape-rendering="crispEdges"/>
<rect x="5" y="279" width="1188" height="2" fill="#00cc00" shape-rendering="crispEdges"/>
<rect x="5" y="324" width="1188" height="2" fill="#3045e2" shape-rendering="crispEdges"/>
<rect x="5" y="373" width="1188" height="2" fill="#3045e2" shape-rendering="crispEdges"/>
<rect x="1195" y="285" width="39" height="2" fill="#000" shape-rendering="crispEdges"/>
<rect x="1195" y="167" width="39" height="11" fill="#ff0000" shape-rendering="crispEdges"/>
<rect x="1195" y="224" width="39" height="11" fill="#ff0000" shape-rendering="crispEdges"/>
<rect x="1195" y="274" width="39" height="11" fill="#00cc00" shape-rendering="crispEdges"/>
<rect x="1195" y="319" width="39" height="11" fill="#4358e6" shape-rendering="crispEdges"/>
<rect x="1195" y="368" width="34" height="11" fill="#4358e6" shape-rendering="crispEdges"/>
<path d="M8 10h7v1h-7zM9 11h5v1h-5zM10 12h3v1h-3zM11 13h1v1h-1z" fill="#000" shape-rendering="crispEdges"/>
<g style="filter:grayscale(1)">
<text x="1198.5" y="33.0" fill="#000" stroke="#000" stroke-width="0.1" textLength="31.9" lengthAdjust="spacingAndGlyphs">137.510</text>
<text x="1198.5" y="66.0" fill="#000" stroke="#000" stroke-width="0.1" textLength="31.9" lengthAdjust="spacingAndGlyphs">133.430</text>
<text x="1198.5" y="99.0" fill="#000" stroke="#000" stroke-width="0.1" textLength="31.9" lengthAdjust="spacingAndGlyphs">129.470</text>
<text x="1198.5" y="132.0" fill="#000" stroke="#000" stroke-width="0.1" textLength="31.9" lengthAdjust="spacingAndGlyphs">125.390</text>
<text x="1198.5" y="165.0" fill="#000" stroke="#000" stroke-width="0.1" textLength="31.9" lengthAdjust="spacingAndGlyphs">121.430</text>
<text x="1198.5" y="198.0" fill="#000" stroke="#000" stroke-width="0.1" textLength="31.2" lengthAdjust="spacingAndGlyphs">117.350</text>
<text x="1198.5" y="264.0" fill="#000" stroke="#000" stroke-width="0.1" textLength="31.9" lengthAdjust="spacingAndGlyphs">109.430</text>
<text x="1198.5" y="297.0" fill="#000" stroke="#000" stroke-width="0.1" textLength="31.9" lengthAdjust="spacingAndGlyphs">105.350</text>
<text x="1198.5" y="363.0" fill="#000" stroke="#000" stroke-width="0.1" textLength="26.9" lengthAdjust="spacingAndGlyphs">97.310</text>
<text x="1198.5" y="396.0" fill="#000" stroke="#000" stroke-width="0.1" textLength="26.9" lengthAdjust="spacingAndGlyphs">93.350</text>
<text x="1198.5" y="429.0" fill="#000" stroke="#000" stroke-width="0.1" textLength="26.9" lengthAdjust="spacingAndGlyphs">89.390</text>
<text x="1198.6" y="176.0" fill="#fff" stroke="#fff" stroke-width="0.1" textLength="32.6" lengthAdjust="spacingAndGlyphs">120.000</text>
<text x="1198.6" y="233.0" fill="#fff" stroke="#fff" stroke-width="0.1" textLength="31.9" lengthAdjust="spacingAndGlyphs">113.000</text>
<text x="1198.6" y="283.0" fill="#fff" stroke="#fff" stroke-width="0.1" textLength="32.6" lengthAdjust="spacingAndGlyphs">107.000</text>
<text x="1198.6" y="328.0" fill="#fff" stroke="#fff" stroke-width="0.1" textLength="32.6" lengthAdjust="spacingAndGlyphs">101.500</text>
<text x="1198.6" y="377.0" fill="#fff" stroke="#fff" stroke-width="0.1" textLength="27.6" lengthAdjust="spacingAndGlyphs">95.500</text>
<text x="1195.6" y="441.0" fill="#000" stroke="#000" stroke-width="0.1" textLength="27.3" lengthAdjust="spacingAndGlyphs">6.1457</text>
<text x="1195.6" y="497.0" fill="#000" stroke="#000" stroke-width="0.1" textLength="17.4" lengthAdjust="spacingAndGlyphs">0.00</text>
<text x="1195.6" y="541.0" fill="#000" stroke="#000" stroke-width="0.1" textLength="30.3" lengthAdjust="spacingAndGlyphs">-4.9783</text>
<text x="1195.6" y="557.0" fill="#000" stroke="#000" stroke-width="0.1" textLength="14.9" lengthAdjust="spacingAndGlyphs">100</text>
<text x="1195.6" y="586.0" fill="#000" stroke="#000" stroke-width="0.1" textLength="9.9" lengthAdjust="spacingAndGlyphs">70</text>
<text x="1195.6" y="633.0" fill="#000" stroke="#000" stroke-width="0.1" textLength="9.9" lengthAdjust="spacingAndGlyphs">30</text>
<text x="1195.6" y="661.0" fill="#000" stroke="#000" stroke-width="0.1" textLength="5.0" lengthAdjust="spacingAndGlyphs">0</text>
<text x="4.0" y="677.0" fill="#000" stroke="#000" stroke-width="0.1" textLength="51.7" lengthAdjust="spacingAndGlyphs">14 Feb 2022</text>
<text x="68.0" y="677.0" fill="#000" stroke="#000" stroke-width="0.1" textLength="54.2" lengthAdjust="spacingAndGlyphs">15 Feb 13:00</text>
<text x="132.0" y="677.0" fill="#000" stroke="#000" stroke-width="0.1" textLength="54.2" lengthAdjust="spacingAndGlyphs">16 Feb 21:00</text>
<text x="196.0" y="677.0" fill="#000" stroke="#000" stroke-width="0.1" textLength="54.2" lengthAdjust="spacingAndGlyphs">18 Feb 05:00</text>
<text x="260.0" y="677.0" fill="#000" stroke="#000" stroke-width="0.1" textLength="54.2" lengthAdjust="spacingAndGlyphs">21 Feb 08:00</text>
<text x="324.0" y="677.0" fill="#000" stroke="#000" stroke-width="0.1" textLength="54.2" lengthAdjust="spacingAndGlyphs">22 Feb 17:00</text>
<text x="388.0" y="677.0" fill="#000" stroke="#000" stroke-width="0.1" textLength="54.2" lengthAdjust="spacingAndGlyphs">24 Feb 05:00</text>
<text x="452.0" y="677.0" fill="#000" stroke="#000" stroke-width="0.1" textLength="54.2" lengthAdjust="spacingAndGlyphs">25 Feb 13:00</text>
<text x="516.0" y="677.0" fill="#000" stroke="#000" stroke-width="0.1" textLength="54.2" lengthAdjust="spacingAndGlyphs">28 Feb 16:00</text>
<text x="580.0" y="677.0" fill="#000" stroke="#000" stroke-width="0.1" textLength="49.1" lengthAdjust="spacingAndGlyphs">2 Mar 01:00</text>
<text x="644.0" y="677.0" fill="#000" stroke="#000" stroke-width="0.1" textLength="49.1" lengthAdjust="spacingAndGlyphs">3 Mar 09:00</text>
<text x="708.0" y="677.0" fill="#000" stroke="#000" stroke-width="0.1" textLength="49.1" lengthAdjust="spacingAndGlyphs">4 Mar 17:00</text>
<text x="772.0" y="677.0" fill="#000" stroke="#000" stroke-width="0.1" textLength="49.1" lengthAdjust="spacingAndGlyphs">7 Mar 20:00</text>
<text x="836.0" y="677.0" fill="#000" stroke="#000" stroke-width="0.1" textLength="49.1" lengthAdjust="spacingAndGlyphs">9 Mar 05:00</text>
<text x="900.0" y="677.0" fill="#000" stroke="#000" stroke-width="0.1" textLength="54.2" lengthAdjust="spacingAndGlyphs">10 Mar 13:00</text>
<text x="964.0" y="677.0" fill="#000" stroke="#000" stroke-width="0.1" textLength="53.5" lengthAdjust="spacingAndGlyphs">11 Mar 21:00</text>
<text x="1028.0" y="677.0" fill="#000" stroke="#000" stroke-width="0.1" textLength="54.2" lengthAdjust="spacingAndGlyphs">15 Mar 00:00</text>
<text x="1092.0" y="677.0" fill="#000" stroke="#000" stroke-width="0.1" textLength="54.2" lengthAdjust="spacingAndGlyphs">16 Mar 08:00</text>
<text x="1156.0" y="677.0" fill="#000" stroke="#000" stroke-width="0.1" textLength="54.2" lengthAdjust="spacingAndGlyphs">17 Mar 16:00</text>
<text x="19.6" y="15.0" fill="#000" stroke="#000" stroke-width="0.1" textLength="44.3" lengthAdjust="spacingAndGlyphs">UKOil-,H4</text>
<text x="69.2" y="15.0" fill="#000" stroke="#000" stroke-width="0.1" textLength="32.6" lengthAdjust="spacingAndGlyphs">106.870</text>
<text x="105.2" y="15.0" fill="#000" stroke="#000" stroke-width="0.1" textLength="32.6" lengthAdjust="spacingAndGlyphs">106.870</text>
<text x="141.2" y="15.0" fill="#000" stroke="#000" stroke-width="0.1" textLength="32.6" lengthAdjust="spacingAndGlyphs">106.870</text>
<text x="177.2" y="15.0" fill="#000" stroke="#000" stroke-width="0.1" textLength="32.6" lengthAdjust="spacingAndGlyphs">106.870</text>
<text x="8.8" y="443.0" fill="#000" stroke="#000" stroke-width="0.1" textLength="134.5" lengthAdjust="spacingAndGlyphs">MACD(12,26,9) -0.8380 -2.6228</text>
<text x="8.6" y="559.0" fill="#000" stroke="#000" stroke-width="0.1" textLength="69.4" lengthAdjust="spacingAndGlyphs">RSI(14) 55.3674</text>
</g>
<text x="211.7" y="105.6" fill="#ff0808" font-size="34.5" font-family="'Liberation Sans', 'Noto Sans CJK SC', sans-serif" textLength="228.8" lengthAdjust="spacingAndGlyphs">多空转折点107</text>
</svg></body></html>
